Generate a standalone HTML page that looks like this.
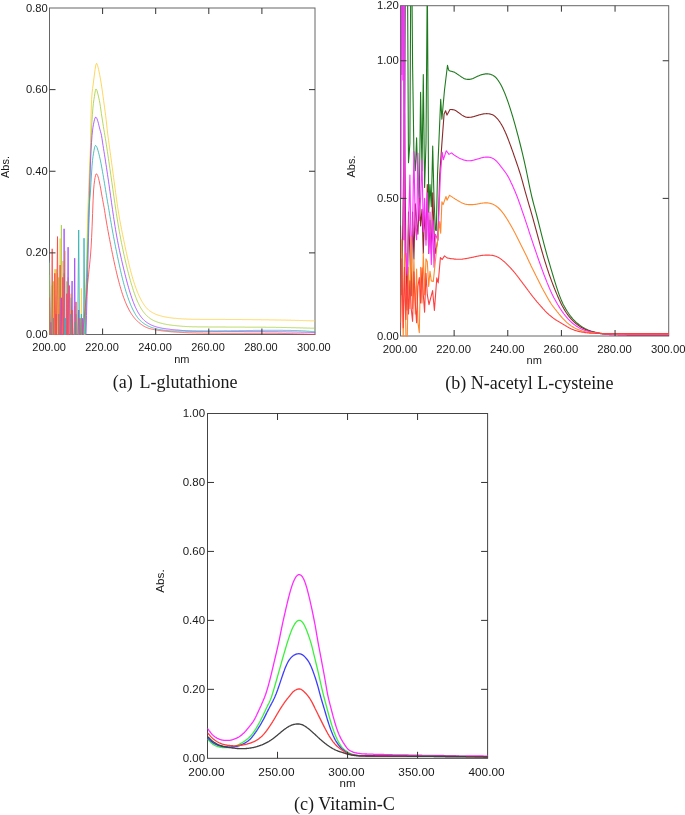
<!DOCTYPE html>
<html lang="en"><head><meta charset="utf-8"><title>UV absorption spectra</title>
<style>html,body{margin:0;padding:0;background:#fff}svg{display:block;will-change:transform}.ss{font-family:"Liberation Sans", Arial, sans-serif}.sf{font-family:"Liberation Serif", "Times New Roman", serif}</style></head><body>
<svg width="685" height="815" viewBox="0 0 685 815">
<rect width="685" height="815" fill="#fff"/>
<rect x="49.5" y="8.0" width="265.50" height="326.50" fill="none" stroke="#666" stroke-width="1"/>
<clipPath id="clip_a"><rect x="49.5" y="8.0" width="266.00" height="327.00"/></clipPath>
<g clip-path="url(#clip_a)" fill="none" stroke-linejoin="round" stroke-linecap="round">
<polyline points="49.5,263.1 50.8,502.7 52.2,285.5 53.5,355.2 54.8,269.2 56.1,492.4 57.5,273.3 58.8,391.4 60.1,238.6 61.4,374.0 62.8,261.0 64.1,390.1 65.4,250.8 66.8,466.4 68.1,277.4 69.4,457.9 70.7,293.7 72.1,394.4 73.4,352.6 74.7,305.9 76.0,404.6 77.4,425.5 78.7,310.0 80.0,451.7 81.4,288.4 82.7,448.6 84.6,334.0 85.1,315.1 85.6,296.3 86.1,277.5 86.6,258.4 87.1,238.7 87.6,220.0 88.1,204.0 88.6,190.3 89.1,177.6 89.6,165.3 90.1,155.2 90.6,142.3 91.1,113.9 91.6,99.6 92.1,92.8 92.6,88.5 93.1,85.0 93.6,81.0 94.1,77.0 94.6,73.1 95.1,69.5 95.6,66.1 96.1,64.1 96.6,63.3 97.1,64.1 97.6,65.5 98.1,67.4 98.6,69.5 99.1,71.8 99.6,74.4 100.1,77.1 100.6,79.9 101.1,82.9 101.6,86.1 102.1,89.4 102.6,92.9 103.1,96.6 103.6,100.4 104.1,104.1 104.6,107.8 105.1,111.5 105.6,115.3 106.1,119.4 106.6,124.0 107.1,128.7 107.6,133.1 108.1,136.9 108.6,140.6 109.1,144.2 109.6,147.9 110.1,151.5 110.6,155.3 111.1,158.9 111.6,162.6 112.1,166.3 112.6,170.0 113.1,173.7 113.6,177.5 114.1,181.2 114.6,185.0 115.1,188.7 115.6,192.5 116.1,196.1 116.6,199.7 117.1,203.2 117.6,206.6 118.1,209.9 118.6,213.0 119.1,216.0 119.6,218.9 120.1,221.7 120.6,224.4 121.1,227.0 121.6,229.6 122.1,232.1 122.6,234.6 123.1,237.0 123.6,239.4 124.1,241.9 124.6,244.3 125.1,246.7 125.6,249.0 126.1,251.4 126.6,253.7 127.1,255.9 127.6,258.2 128.1,260.4 128.6,262.5 129.1,264.6 129.6,266.7 130.1,268.7 130.6,270.7 131.1,272.6 131.6,274.4 132.1,276.2 132.6,278.0 133.1,279.6 133.6,281.3 134.1,282.8 134.6,284.4 135.1,285.8 135.6,287.2 136.1,288.6 136.6,289.9 137.1,291.2 137.6,292.4 138.1,293.6 138.6,294.8 139.1,295.9 139.6,296.9 140.1,298.0 140.6,298.9 141.1,299.9 141.6,300.8 142.1,301.7 142.6,302.5 143.1,303.3 143.6,304.1 144.1,304.9 144.6,305.6 145.1,306.2 145.6,306.9 146.1,307.5 146.6,308.0 147.1,308.6 147.6,309.1 148.1,309.5 148.6,310.0 149.1,310.4 149.6,310.8 150.1,311.1 150.6,311.5 151.1,311.8 151.6,312.1 152.1,312.4 152.6,312.7 153.1,313.0 153.6,313.2 154.1,313.5 154.6,313.7 155.1,313.9 155.6,314.2 156.1,314.4 156.6,314.6 157.1,314.8 157.6,314.9 158.1,315.1 158.6,315.3 159.1,315.4 159.6,315.6 160.1,315.7 160.6,315.9 161.1,316.0 161.6,316.1 162.1,316.3 162.6,316.4 163.1,316.5 163.6,316.6 164.1,316.7 164.6,316.8 165.1,316.9 165.6,317.0 166.1,317.1 166.6,317.2 167.1,317.3 167.6,317.4 168.1,317.4 168.6,317.5 169.1,317.6 169.6,317.7 170.1,317.7 170.6,317.8 171.1,317.9 171.6,317.9 172.1,318.0 172.6,318.1 173.1,318.1 173.6,318.2 174.1,318.2 174.6,318.3 175.1,318.3 175.6,318.3 176.1,318.4 176.6,318.4 177.1,318.5 177.6,318.5 178.1,318.6 178.6,318.6 179.1,318.6 179.6,318.7 180.1,318.7 180.6,318.7 181.1,318.8 181.6,318.8 182.1,318.8 182.6,318.9 183.1,318.9 183.6,318.9 184.1,319.0 184.6,319.0 185.1,319.0 185.6,319.0 186.1,319.1 186.6,319.1 187.1,319.1 187.6,319.1 188.1,319.1 188.6,319.2 189.1,319.2 189.6,319.2 190.1,319.2 190.6,319.2 191.1,319.2 191.6,319.3 192.1,319.3 192.6,319.3 193.1,319.3 193.6,319.3 194.1,319.3 194.6,319.3 195.1,319.3 195.6,319.3 196.1,319.3 196.6,319.3 197.1,319.3 197.6,319.3 198.1,319.3 198.6,319.3 199.1,319.3 199.6,319.3 200.1,319.4 200.6,319.4 201.1,319.4 201.6,319.4 202.1,319.4 202.6,319.4 203.1,319.4 203.6,319.4 204.1,319.4 204.6,319.4 205.1,319.4 205.6,319.4 206.1,319.4 206.6,319.4 207.1,319.4 207.6,319.4 208.1,319.4 208.6,319.4 209.1,319.4 209.6,319.4 210.1,319.4 210.6,319.4 211.1,319.4 211.6,319.4 212.1,319.4 212.6,319.4 213.1,319.4 213.6,319.4 214.1,319.4 214.6,319.4 215.1,319.4 215.6,319.4 216.1,319.4 216.6,319.4 217.1,319.4 217.6,319.4 218.1,319.4 218.6,319.4 219.1,319.4 219.6,319.4 220.1,319.4 220.6,319.4 221.1,319.4 221.6,319.4 222.1,319.4 222.6,319.4 223.1,319.4 223.6,319.4 224.1,319.4 224.6,319.4 225.1,319.5 225.6,319.5 226.1,319.5 226.6,319.5 227.1,319.5 227.6,319.5 228.1,319.5 228.6,319.5 229.1,319.5 229.6,319.5 230.1,319.5 230.6,319.5 231.1,319.5 231.6,319.5 232.1,319.5 232.6,319.5 233.1,319.5 233.6,319.5 234.1,319.5 234.6,319.5 235.1,319.5 235.6,319.5 236.1,319.5 236.6,319.5 237.1,319.5 237.6,319.5 238.1,319.5 238.6,319.5 239.1,319.5 239.6,319.5 240.1,319.5 240.6,319.5 241.1,319.5 241.6,319.5 242.1,319.6 242.6,319.6 243.1,319.6 243.6,319.6 244.1,319.6 244.6,319.6 245.1,319.6 245.6,319.6 246.1,319.6 246.6,319.6 247.1,319.6 247.6,319.6 248.1,319.6 248.6,319.6 249.1,319.6 249.6,319.6 250.1,319.6 250.6,319.6 251.1,319.6 251.6,319.6 252.1,319.6 252.6,319.7 253.1,319.7 253.6,319.7 254.1,319.7 254.6,319.7 255.1,319.7 255.6,319.7 256.1,319.7 256.6,319.7 257.1,319.7 257.6,319.7 258.1,319.7 258.6,319.7 259.1,319.7 259.6,319.7 260.1,319.7 260.6,319.7 261.1,319.8 261.6,319.8 262.1,319.8 262.6,319.8 263.1,319.8 263.6,319.8 264.1,319.8 264.6,319.8 265.1,319.8 265.6,319.8 266.1,319.8 266.6,319.8 267.1,319.8 267.6,319.8 268.1,319.8 268.6,319.8 269.1,319.9 269.6,319.9 270.1,319.9 270.6,319.9 271.1,319.9 271.6,319.9 272.1,319.9 272.6,319.9 273.1,319.9 273.6,319.9 274.1,319.9 274.6,319.9 275.1,319.9 275.6,320.0 276.1,320.0 276.6,320.0 277.1,320.0 277.6,320.0 278.1,320.0 278.6,320.0 279.1,320.0 279.6,320.0 280.1,320.0 280.6,320.0 281.1,320.1 281.6,320.1 282.1,320.1 282.6,320.1 283.1,320.1 283.6,320.1 284.1,320.1 284.6,320.1 285.1,320.1 285.6,320.1 286.1,320.1 286.6,320.2 287.1,320.2 287.6,320.2 288.1,320.2 288.6,320.2 289.1,320.2 289.6,320.2 290.1,320.2 290.6,320.2 291.1,320.3 291.6,320.3 292.1,320.3 292.6,320.3 293.1,320.3 293.6,320.3 294.1,320.3 294.6,320.3 295.1,320.4 295.6,320.4 296.1,320.4 296.6,320.4 297.1,320.4 297.6,320.4 298.1,320.4 298.6,320.4 299.1,320.5 299.6,320.5 300.1,320.5 300.6,320.5 301.1,320.5 301.6,320.5 302.1,320.5 302.6,320.5 303.1,320.6 303.6,320.6 304.1,320.6 304.6,320.6 305.1,320.6 305.6,320.6 306.1,320.6 306.6,320.7 307.1,320.7 307.6,320.7 308.1,320.7 308.6,320.7 309.1,320.7 309.6,320.7 310.1,320.8 310.6,320.8 311.1,320.8 311.6,320.8 312.1,320.8 312.6,320.8 313.1,320.8 313.6,320.8 314.1,320.9 314.6,320.9 315.0,320.9" stroke="#FFCF40" stroke-width="0.85"/>
<polyline points="49.5,275.3 50.8,448.1 52.2,425.3 53.5,281.4 54.8,370.4 56.1,269.2 57.5,487.9 58.8,277.4 60.1,479.6 61.4,225.1 62.8,513.2 64.1,273.3 65.4,498.2 66.8,281.4 68.1,516.6 69.4,491.3 70.7,297.8 72.1,430.1 73.4,348.5 74.7,399.3 76.0,314.1 77.4,453.3 78.7,448.7 80.0,399.7 81.4,322.3 82.7,462.3 85.4,334.0 85.9,314.0 86.4,294.0 86.9,274.0 87.4,253.4 87.9,232.3 88.4,213.3 88.9,198.2 89.4,185.3 89.9,172.6 90.4,158.9 90.9,144.9 91.4,132.8 91.9,122.6 92.4,114.5 92.9,108.1 93.4,103.3 93.9,99.6 94.4,96.6 94.9,93.2 95.4,90.4 95.9,89.0 96.4,89.3 96.9,90.4 97.4,92.1 97.9,94.1 98.4,96.1 98.9,98.3 99.4,100.6 99.9,103.3 100.4,106.5 100.9,110.0 101.4,113.6 101.9,116.9 102.4,120.1 102.9,123.3 103.4,126.5 103.9,129.6 104.4,132.6 104.9,135.6 105.4,138.6 105.9,141.6 106.4,144.8 106.9,148.1 107.4,151.5 107.9,154.9 108.4,158.3 108.9,161.7 109.4,165.1 109.9,168.6 110.4,172.0 110.9,175.5 111.4,179.0 111.9,182.5 112.4,186.0 112.9,189.5 113.4,193.1 113.9,196.6 114.4,200.1 114.9,203.5 115.4,206.9 115.9,210.3 116.4,213.6 116.9,216.8 117.4,219.9 117.9,223.0 118.4,226.0 118.9,228.9 119.4,231.7 119.9,234.5 120.4,237.1 120.9,239.8 121.4,242.3 121.9,244.8 122.4,247.2 122.9,249.6 123.4,252.0 123.9,254.3 124.4,256.6 124.9,258.8 125.4,261.0 125.9,263.1 126.4,265.2 126.9,267.3 127.4,269.3 127.9,271.3 128.4,273.3 128.9,275.2 129.4,277.0 129.9,278.8 130.4,280.6 130.9,282.4 131.4,284.1 131.9,285.7 132.4,287.3 132.9,288.9 133.4,290.5 133.9,292.0 134.4,293.4 134.9,294.8 135.4,296.2 135.9,297.5 136.4,298.8 136.9,300.0 137.4,301.2 137.9,302.3 138.4,303.4 138.9,304.4 139.4,305.4 139.9,306.4 140.4,307.3 140.9,308.1 141.4,308.9 141.9,309.7 142.4,310.5 142.9,311.2 143.4,311.9 143.9,312.5 144.4,313.1 144.9,313.7 145.4,314.3 145.9,314.8 146.4,315.3 146.9,315.8 147.4,316.3 147.9,316.7 148.4,317.2 148.9,317.6 149.4,317.9 149.9,318.3 150.4,318.7 150.9,319.0 151.4,319.3 151.9,319.6 152.4,319.9 152.9,320.1 153.4,320.4 153.9,320.6 154.4,320.9 154.9,321.1 155.4,321.3 155.9,321.5 156.4,321.7 156.9,321.9 157.4,322.1 157.9,322.2 158.4,322.4 158.9,322.6 159.4,322.7 159.9,322.9 160.4,323.0 160.9,323.2 161.4,323.3 161.9,323.4 162.4,323.5 162.9,323.7 163.4,323.8 163.9,323.9 164.4,324.0 164.9,324.1 165.4,324.2 165.9,324.3 166.4,324.4 166.9,324.5 167.4,324.6 167.9,324.6 168.4,324.7 168.9,324.8 169.4,324.9 169.9,325.0 170.4,325.0 170.9,325.1 171.4,325.2 171.9,325.2 172.4,325.3 172.9,325.4 173.4,325.4 173.9,325.5 174.4,325.5 174.9,325.6 175.4,325.6 175.9,325.7 176.4,325.7 176.9,325.8 177.4,325.8 177.9,325.9 178.4,325.9 178.9,326.0 179.4,326.0 179.9,326.1 180.4,326.1 180.9,326.1 181.4,326.2 181.9,326.2 182.4,326.3 182.9,326.3 183.4,326.3 183.9,326.4 184.4,326.4 184.9,326.4 185.4,326.5 185.9,326.5 186.4,326.5 186.9,326.5 187.4,326.6 187.9,326.6 188.4,326.6 188.9,326.6 189.4,326.7 189.9,326.7 190.4,326.7 190.9,326.7 191.4,326.7 191.9,326.8 192.4,326.8 192.9,326.8 193.4,326.8 193.9,326.8 194.4,326.8 194.9,326.8 195.4,326.8 195.9,326.8 196.4,326.8 196.9,326.8 197.4,326.9 197.9,326.9 198.4,326.9 198.9,326.9 199.4,326.9 199.9,326.9 200.4,326.9 200.9,326.9 201.4,326.9 201.9,326.9 202.4,326.9 202.9,326.9 203.4,326.9 203.9,326.9 204.4,326.9 204.9,326.9 205.4,326.9 205.9,326.9 206.4,326.9 206.9,326.9 207.4,326.9 207.9,327.0 208.4,327.0 208.9,327.0 209.4,327.0 209.9,327.0 210.4,327.0 210.9,327.0 211.4,327.0 211.9,327.0 212.4,327.0 212.9,327.0 213.4,327.0 213.9,327.0 214.4,327.0 214.9,327.0 215.4,327.0 215.9,327.0 216.4,327.0 216.9,327.0 217.4,327.0 217.9,327.0 218.4,327.0 218.9,327.0 219.4,327.0 219.9,327.0 220.4,327.0 220.9,327.0 221.4,327.0 221.9,327.0 222.4,327.0 222.9,327.0 223.4,327.0 223.9,327.0 224.4,327.0 224.9,327.0 225.4,327.0 225.9,327.1 226.4,327.1 226.9,327.1 227.4,327.1 227.9,327.1 228.4,327.1 228.9,327.1 229.4,327.1 229.9,327.1 230.4,327.1 230.9,327.1 231.4,327.1 231.9,327.1 232.4,327.1 232.9,327.1 233.4,327.1 233.9,327.1 234.4,327.1 234.9,327.1 235.4,327.1 235.9,327.1 236.4,327.1 236.9,327.1 237.4,327.1 237.9,327.1 238.4,327.1 238.9,327.1 239.4,327.1 239.9,327.1 240.4,327.1 240.9,327.1 241.4,327.1 241.9,327.1 242.4,327.1 242.9,327.1 243.4,327.1 243.9,327.1 244.4,327.1 244.9,327.2 245.4,327.2 245.9,327.2 246.4,327.2 246.9,327.2 247.4,327.2 247.9,327.2 248.4,327.2 248.9,327.2 249.4,327.2 249.9,327.2 250.4,327.2 250.9,327.2 251.4,327.2 251.9,327.2 252.4,327.2 252.9,327.2 253.4,327.2 253.9,327.2 254.4,327.2 254.9,327.2 255.4,327.2 255.9,327.2 256.4,327.2 256.9,327.2 257.4,327.2 257.9,327.2 258.4,327.2 258.9,327.2 259.4,327.2 259.9,327.2 260.4,327.2 260.9,327.2 261.4,327.2 261.9,327.2 262.4,327.2 262.9,327.2 263.4,327.2 263.9,327.2 264.4,327.2 264.9,327.2 265.4,327.2 265.9,327.3 266.4,327.3 266.9,327.3 267.4,327.3 267.9,327.3 268.4,327.3 268.9,327.3 269.4,327.3 269.9,327.3 270.4,327.3 270.9,327.3 271.4,327.3 271.9,327.3 272.4,327.3 272.9,327.3 273.4,327.3 273.9,327.3 274.4,327.3 274.9,327.3 275.4,327.3 275.9,327.3 276.4,327.4 276.9,327.4 277.4,327.4 277.9,327.4 278.4,327.4 278.9,327.4 279.4,327.4 279.9,327.4 280.4,327.4 280.9,327.4 281.4,327.4 281.9,327.5 282.4,327.5 282.9,327.5 283.4,327.5 283.9,327.5 284.4,327.5 284.9,327.5 285.4,327.5 285.9,327.5 286.4,327.5 286.9,327.6 287.4,327.6 287.9,327.6 288.4,327.6 288.9,327.6 289.4,327.6 289.9,327.6 290.4,327.6 290.9,327.6 291.4,327.7 291.9,327.7 292.4,327.7 292.9,327.7 293.4,327.7 293.9,327.7 294.4,327.7 294.9,327.7 295.4,327.7 295.9,327.8 296.4,327.8 296.9,327.8 297.4,327.8 297.9,327.8 298.4,327.8 298.9,327.8 299.4,327.8 299.9,327.9 300.4,327.9 300.9,327.9 301.4,327.9 301.9,327.9 302.4,327.9 302.9,327.9 303.4,328.0 303.9,328.0 304.4,328.0 304.9,328.0 305.4,328.0 305.9,328.0 306.4,328.0 306.9,328.1 307.4,328.1 307.9,328.1 308.4,328.1 308.9,328.1 309.4,328.1 309.9,328.1 310.4,328.2 310.9,328.2 311.4,328.2 311.9,328.2 312.4,328.2 312.9,328.2 313.4,328.2 313.9,328.2 314.4,328.3 314.9,328.3 315.0,328.3" stroke="#A6D13C" stroke-width="0.85"/>
<polyline points="49.5,420.4 50.8,322.3 52.2,409.8 53.5,378.1 54.8,470.6 56.1,314.1 57.5,406.4 58.8,365.5 60.1,362.4 61.4,297.8 62.8,486.2 64.1,228.8 65.4,406.4 66.8,412.4 68.1,247.2 69.4,431.9 70.7,352.5 72.1,281.0 73.4,427.6 74.7,258.2 76.0,441.8 77.4,356.4 78.7,310.0 80.0,409.2 81.4,466.5 82.7,318.2 84.0,465.1 86.0,334.0 86.5,315.6 87.0,296.8 87.5,277.7 88.0,258.1 88.5,237.8 89.0,217.7 89.5,198.1 90.0,178.2 90.5,161.9 91.0,151.2 91.5,142.5 92.0,135.7 92.5,130.9 93.0,127.2 93.5,124.3 94.0,121.8 94.5,119.5 95.0,118.1 95.5,117.2 96.0,117.2 96.5,117.9 97.0,118.8 97.5,120.2 98.0,121.8 98.5,123.7 99.0,125.8 99.5,127.9 100.0,129.8 100.5,131.5 101.0,133.3 101.5,135.5 102.0,138.7 102.5,142.1 103.0,145.3 103.5,148.5 104.0,151.6 104.5,154.7 105.0,157.9 105.5,161.2 106.0,164.4 106.5,167.7 107.0,171.1 107.5,174.4 108.0,177.8 108.5,181.2 109.0,184.6 109.5,188.2 110.0,191.7 110.5,195.3 111.0,198.8 111.5,202.4 112.0,206.0 112.5,209.5 113.0,213.0 113.5,216.4 114.0,219.8 114.5,223.0 115.0,226.2 115.5,229.3 116.0,232.2 116.5,235.1 117.0,237.9 117.5,240.5 118.0,243.1 118.5,245.6 119.0,248.1 119.5,250.4 120.0,252.8 120.5,255.1 121.0,257.3 121.5,259.6 122.0,261.7 122.5,263.9 123.0,266.0 123.5,268.1 124.0,270.2 124.5,272.2 125.0,274.3 125.5,276.2 126.0,278.2 126.5,280.1 127.0,282.0 127.5,283.8 128.0,285.7 128.5,287.4 129.0,289.2 129.5,290.8 130.0,292.5 130.5,294.1 131.0,295.6 131.5,297.1 132.0,298.6 132.5,300.0 133.0,301.3 133.5,302.6 134.0,303.9 134.5,305.1 135.0,306.3 135.5,307.4 136.0,308.4 136.5,309.5 137.0,310.4 137.5,311.4 138.0,312.3 138.5,313.1 139.0,313.9 139.5,314.7 140.0,315.4 140.5,316.1 141.0,316.8 141.5,317.4 142.0,318.0 142.5,318.6 143.0,319.2 143.5,319.7 144.0,320.2 144.5,320.6 145.0,321.1 145.5,321.5 146.0,321.9 146.5,322.2 147.0,322.6 147.5,322.9 148.0,323.2 148.5,323.5 149.0,323.8 149.5,324.1 150.0,324.4 150.5,324.6 151.0,324.9 151.5,325.1 152.0,325.3 152.5,325.5 153.0,325.7 153.5,325.9 154.0,326.1 154.5,326.3 155.0,326.4 155.5,326.6 156.0,326.8 156.5,326.9 157.0,327.1 157.5,327.2 158.0,327.3 158.5,327.4 159.0,327.6 159.5,327.7 160.0,327.8 160.5,327.9 161.0,328.0 161.5,328.1 162.0,328.2 162.5,328.3 163.0,328.4 163.5,328.4 164.0,328.5 164.5,328.6 165.0,328.7 165.5,328.7 166.0,328.8 166.5,328.9 167.0,328.9 167.5,329.0 168.0,329.1 168.5,329.1 169.0,329.2 169.5,329.2 170.0,329.3 170.5,329.4 171.0,329.4 171.5,329.5 172.0,329.5 172.5,329.6 173.0,329.6 173.5,329.7 174.0,329.7 174.5,329.8 175.0,329.8 175.5,329.9 176.0,329.9 176.5,330.0 177.0,330.0 177.5,330.0 178.0,330.1 178.5,330.1 179.0,330.2 179.5,330.2 180.0,330.3 180.5,330.3 181.0,330.4 181.5,330.4 182.0,330.4 182.5,330.5 183.0,330.5 183.5,330.6 184.0,330.6 184.5,330.6 185.0,330.7 185.5,330.7 186.0,330.7 186.5,330.8 187.0,330.8 187.5,330.8 188.0,330.9 188.5,330.9 189.0,330.9 189.5,330.9 190.0,331.0 190.5,331.0 191.0,331.0 191.5,331.0 192.0,331.0 192.5,331.1 193.0,331.1 193.5,331.1 194.0,331.1 194.5,331.1 195.0,331.1 195.5,331.1 196.0,331.1 196.5,331.2 197.0,331.2 197.5,331.2 198.0,331.2 198.5,331.2 199.0,331.2 199.5,331.2 200.0,331.2 200.5,331.2 201.0,331.2 201.5,331.2 202.0,331.2 202.5,331.2 203.0,331.2 203.5,331.3 204.0,331.3 204.5,331.3 205.0,331.3 205.5,331.3 206.0,331.3 206.5,331.3 207.0,331.3 207.5,331.3 208.0,331.3 208.5,331.3 209.0,331.3 209.5,331.3 210.0,331.3 210.5,331.3 211.0,331.3 211.5,331.3 212.0,331.3 212.5,331.3 213.0,331.4 213.5,331.4 214.0,331.4 214.5,331.4 215.0,331.4 215.5,331.4 216.0,331.4 216.5,331.4 217.0,331.4 217.5,331.4 218.0,331.4 218.5,331.4 219.0,331.4 219.5,331.4 220.0,331.4 220.5,331.4 221.0,331.4 221.5,331.4 222.0,331.4 222.5,331.4 223.0,331.4 223.5,331.4 224.0,331.4 224.5,331.4 225.0,331.4 225.5,331.4 226.0,331.4 226.5,331.4 227.0,331.4 227.5,331.5 228.0,331.5 228.5,331.5 229.0,331.5 229.5,331.5 230.0,331.5 230.5,331.5 231.0,331.5 231.5,331.5 232.0,331.5 232.5,331.5 233.0,331.5 233.5,331.5 234.0,331.5 234.5,331.5 235.0,331.5 235.5,331.5 236.0,331.5 236.5,331.5 237.0,331.5 237.5,331.5 238.0,331.5 238.5,331.5 239.0,331.5 239.5,331.5 240.0,331.5 240.5,331.5 241.0,331.5 241.5,331.5 242.0,331.5 242.5,331.5 243.0,331.5 243.5,331.5 244.0,331.6 244.5,331.6 245.0,331.6 245.5,331.6 246.0,331.6 246.5,331.6 247.0,331.6 247.5,331.6 248.0,331.6 248.5,331.6 249.0,331.6 249.5,331.6 250.0,331.6 250.5,331.6 251.0,331.6 251.5,331.6 252.0,331.6 252.5,331.6 253.0,331.6 253.5,331.6 254.0,331.6 254.5,331.6 255.0,331.6 255.5,331.6 256.0,331.6 256.5,331.6 257.0,331.6 257.5,331.6 258.0,331.6 258.5,331.6 259.0,331.6 259.5,331.6 260.0,331.6 260.5,331.6 261.0,331.6 261.5,331.6 262.0,331.6 262.5,331.6 263.0,331.6 263.5,331.6 264.0,331.6 264.5,331.6 265.0,331.7 265.5,331.7 266.0,331.7 266.5,331.7 267.0,331.7 267.5,331.7 268.0,331.7 268.5,331.7 269.0,331.7 269.5,331.7 270.0,331.7 270.5,331.7 271.0,331.7 271.5,331.7 272.0,331.7 272.5,331.7 273.0,331.7 273.5,331.7 274.0,331.7 274.5,331.7 275.0,331.7 275.5,331.7 276.0,331.7 276.5,331.7 277.0,331.7 277.5,331.7 278.0,331.8 278.5,331.8 279.0,331.8 279.5,331.8 280.0,331.8 280.5,331.8 281.0,331.8 281.5,331.8 282.0,331.8 282.5,331.8 283.0,331.8 283.5,331.8 284.0,331.8 284.5,331.8 285.0,331.8 285.5,331.8 286.0,331.9 286.5,331.9 287.0,331.9 287.5,331.9 288.0,331.9 288.5,331.9 289.0,331.9 289.5,331.9 290.0,331.9 290.5,331.9 291.0,331.9 291.5,331.9 292.0,331.9 292.5,332.0 293.0,332.0 293.5,332.0 294.0,332.0 294.5,332.0 295.0,332.0 295.5,332.0 296.0,332.0 296.5,332.0 297.0,332.0 297.5,332.1 298.0,332.1 298.5,332.1 299.0,332.1 299.5,332.1 300.0,332.1 300.5,332.1 301.0,332.1 301.5,332.2 302.0,332.2 302.5,332.2 303.0,332.2 303.5,332.2 304.0,332.2 304.5,332.2 305.0,332.3 305.5,332.3 306.0,332.3 306.5,332.3 307.0,332.3 307.5,332.3 308.0,332.4 308.5,332.4 309.0,332.4 309.5,332.4 310.0,332.4 310.5,332.4 311.0,332.5 311.5,332.5 312.0,332.5 312.5,332.5 313.0,332.5 313.5,332.5 314.0,332.5 314.5,332.6 315.0,332.6" stroke="#A346FF" stroke-width="0.85"/>
<polyline points="49.5,261.0 50.8,353.9 52.2,494.1 53.5,318.2 54.8,514.1 56.1,347.0 57.5,486.6 58.8,314.1 60.1,497.5 61.4,406.5 62.8,458.9 64.1,365.7 65.4,318.2 66.8,478.4 68.1,353.7 69.4,463.4 70.7,314.1 72.1,415.1 73.4,358.4 74.7,322.3 76.0,400.7 77.4,359.8 78.7,230.0 80.0,396.8 81.4,314.1 82.7,509.9 84.0,238.2 85.0,334.0 85.5,311.7 86.0,295.0 86.5,281.1 87.0,268.1 87.5,254.2 88.0,238.7 88.5,223.4 89.0,210.5 89.5,202.3 90.0,197.3 90.5,191.0 91.0,182.3 91.5,174.0 92.0,166.1 92.5,160.5 93.0,156.6 93.5,153.3 94.0,150.4 94.5,147.8 95.0,146.3 95.5,145.5 96.0,145.7 96.5,146.4 97.0,147.5 97.5,149.0 98.0,150.6 98.5,152.4 99.0,154.3 99.5,156.4 100.0,158.6 100.5,160.9 101.0,163.4 101.5,166.1 102.0,168.8 102.5,171.6 103.0,174.5 103.5,177.4 104.0,180.3 104.5,183.4 105.0,186.4 105.5,189.5 106.0,192.6 106.5,195.7 107.0,198.7 107.5,201.6 108.0,204.5 108.5,207.4 109.0,210.4 109.5,213.5 110.0,216.5 110.5,219.5 111.0,222.4 111.5,225.3 112.0,228.1 112.5,231.0 113.0,233.7 113.5,236.4 114.0,239.0 114.5,241.6 115.0,244.2 115.5,246.7 116.0,249.2 116.5,251.6 117.0,254.1 117.5,256.5 118.0,258.9 118.5,261.2 119.0,263.6 119.5,265.9 120.0,268.1 120.5,270.4 121.0,272.6 121.5,274.7 122.0,276.8 122.5,278.8 123.0,280.8 123.5,282.7 124.0,284.6 124.5,286.4 125.0,288.2 125.5,289.9 126.0,291.6 126.5,293.2 127.0,294.7 127.5,296.3 128.0,297.7 128.5,299.1 129.0,300.5 129.5,301.8 130.0,303.1 130.5,304.4 131.0,305.6 131.5,306.7 132.0,307.8 132.5,308.9 133.0,309.9 133.5,310.9 134.0,311.8 134.5,312.8 135.0,313.6 135.5,314.5 136.0,315.3 136.5,316.0 137.0,316.7 137.5,317.4 138.0,318.0 138.5,318.7 139.0,319.2 139.5,319.8 140.0,320.3 140.5,320.8 141.0,321.2 141.5,321.7 142.0,322.1 142.5,322.5 143.0,322.9 143.5,323.2 144.0,323.6 144.5,323.9 145.0,324.2 145.5,324.5 146.0,324.8 146.5,325.1 147.0,325.4 147.5,325.7 148.0,325.9 148.5,326.2 149.0,326.4 149.5,326.6 150.0,326.8 150.5,327.0 151.0,327.2 151.5,327.4 152.0,327.6 152.5,327.7 153.0,327.9 153.5,328.0 154.0,328.2 154.5,328.3 155.0,328.5 155.5,328.6 156.0,328.7 156.5,328.8 157.0,328.9 157.5,329.1 158.0,329.2 158.5,329.3 159.0,329.4 159.5,329.5 160.0,329.5 160.5,329.6 161.0,329.7 161.5,329.8 162.0,329.9 162.5,329.9 163.0,330.0 163.5,330.1 164.0,330.1 164.5,330.2 165.0,330.3 165.5,330.3 166.0,330.4 166.5,330.4 167.0,330.5 167.5,330.5 168.0,330.6 168.5,330.6 169.0,330.6 169.5,330.7 170.0,330.7 170.5,330.8 171.0,330.8 171.5,330.8 172.0,330.9 172.5,330.9 173.0,330.9 173.5,330.9 174.0,330.9 174.5,331.0 175.0,331.0 175.5,331.0 176.0,331.0 176.5,331.0 177.0,331.0 177.5,331.0 178.0,331.1 178.5,331.1 179.0,331.1 179.5,331.1 180.0,331.1 180.5,331.1 181.0,331.1 181.5,331.1 182.0,331.1 182.5,331.1 183.0,331.1 183.5,331.1 184.0,331.1 184.5,331.1 185.0,331.2 185.5,331.2 186.0,331.2 186.5,331.2 187.0,331.2 187.5,331.2 188.0,331.2 188.5,331.2 189.0,331.2 189.5,331.2 190.0,331.2 190.5,331.2 191.0,331.2 191.5,331.2 192.0,331.2 192.5,331.2 193.0,331.2 193.5,331.2 194.0,331.2 194.5,331.2 195.0,331.2 195.5,331.2 196.0,331.2 196.5,331.2 197.0,331.2 197.5,331.2 198.0,331.2 198.5,331.2 199.0,331.2 199.5,331.2 200.0,331.2 200.5,331.2 201.0,331.2 201.5,331.2 202.0,331.2 202.5,331.2 203.0,331.1 203.5,331.1 204.0,331.1 204.5,331.1 205.0,331.1 205.5,331.1 206.0,331.1 206.5,331.1 207.0,331.1 207.5,331.1 208.0,331.1 208.5,331.1 209.0,331.1 209.5,331.1 210.0,331.1 210.5,331.1 211.0,331.1 211.5,331.0 212.0,331.0 212.5,331.0 213.0,331.0 213.5,331.0 214.0,331.0 214.5,331.0 215.0,331.0 215.5,331.0 216.0,331.0 216.5,331.0 217.0,331.0 217.5,331.0 218.0,330.9 218.5,330.9 219.0,330.9 219.5,330.9 220.0,330.9 220.5,330.9 221.0,330.9 221.5,330.9 222.0,330.9 222.5,330.9 223.0,330.9 223.5,330.9 224.0,330.9 224.5,330.8 225.0,330.8 225.5,330.8 226.0,330.8 226.5,330.8 227.0,330.8 227.5,330.8 228.0,330.8 228.5,330.8 229.0,330.8 229.5,330.8 230.0,330.8 230.5,330.8 231.0,330.8 231.5,330.7 232.0,330.7 232.5,330.7 233.0,330.7 233.5,330.7 234.0,330.7 234.5,330.7 235.0,330.7 235.5,330.7 236.0,330.7 236.5,330.7 237.0,330.7 237.5,330.7 238.0,330.7 238.5,330.7 239.0,330.6 239.5,330.6 240.0,330.6 240.5,330.6 241.0,330.6 241.5,330.6 242.0,330.6 242.5,330.6 243.0,330.6 243.5,330.6 244.0,330.6 244.5,330.6 245.0,330.6 245.5,330.6 246.0,330.6 246.5,330.5 247.0,330.5 247.5,330.5 248.0,330.5 248.5,330.5 249.0,330.5 249.5,330.5 250.0,330.5 250.5,330.5 251.0,330.5 251.5,330.5 252.0,330.5 252.5,330.5 253.0,330.5 253.5,330.4 254.0,330.4 254.5,330.4 255.0,330.4 255.5,330.4 256.0,330.4 256.5,330.4 257.0,330.4 257.5,330.4 258.0,330.4 258.5,330.4 259.0,330.4 259.5,330.4 260.0,330.4 260.5,330.4 261.0,330.4 261.5,330.4 262.0,330.4 262.5,330.3 263.0,330.3 263.5,330.3 264.0,330.3 264.5,330.3 265.0,330.3 265.5,330.3 266.0,330.3 266.5,330.3 267.0,330.3 267.5,330.3 268.0,330.3 268.5,330.3 269.0,330.3 269.5,330.3 270.0,330.3 270.5,330.3 271.0,330.3 271.5,330.3 272.0,330.3 272.5,330.3 273.0,330.3 273.5,330.3 274.0,330.3 274.5,330.3 275.0,330.3 275.5,330.3 276.0,330.3 276.5,330.3 277.0,330.3 277.5,330.3 278.0,330.3 278.5,330.3 279.0,330.3 279.5,330.3 280.0,330.3 280.5,330.3 281.0,330.3 281.5,330.3 282.0,330.3 282.5,330.3 283.0,330.4 283.5,330.4 284.0,330.4 284.5,330.4 285.0,330.4 285.5,330.4 286.0,330.4 286.5,330.4 287.0,330.4 287.5,330.4 288.0,330.4 288.5,330.4 289.0,330.4 289.5,330.4 290.0,330.4 290.5,330.4 291.0,330.4 291.5,330.5 292.0,330.5 292.5,330.5 293.0,330.5 293.5,330.5 294.0,330.5 294.5,330.5 295.0,330.5 295.5,330.5 296.0,330.5 296.5,330.5 297.0,330.6 297.5,330.6 298.0,330.6 298.5,330.6 299.0,330.6 299.5,330.7 300.0,330.7 300.5,330.7 301.0,330.7 301.5,330.8 302.0,330.8 302.5,330.8 303.0,330.8 303.5,330.9 304.0,330.9 304.5,330.9 305.0,331.0 305.5,331.0 306.0,331.0 306.5,331.1 307.0,331.1 307.5,331.2 308.0,331.2 308.5,331.2 309.0,331.3 309.5,331.3 310.0,331.4 310.5,331.4 311.0,331.4 311.5,331.5 312.0,331.5 312.5,331.6 313.0,331.6 313.5,331.6 314.0,331.7 314.5,331.7 315.0,331.7" stroke="#2FB4B4" stroke-width="0.85"/>
<polyline points="49.5,297.8 50.8,440.6 52.2,248.8 53.5,422.2 54.8,273.3 56.1,359.7 57.5,236.6 58.8,438.3 60.1,265.1 61.4,431.1 62.8,277.4 64.1,417.5 65.4,486.5 66.8,293.7 68.1,430.4 69.4,285.5 70.7,410.2 72.1,310.0 73.4,382.2 74.7,502.0 76.0,301.9 77.4,466.1 78.7,502.6 80.0,318.2 81.4,379.4 82.6,334.5 83.1,329.4 83.6,324.3 84.1,319.2 84.6,314.1 85.1,309.0 85.6,304.0 86.1,299.0 86.6,294.0 87.1,289.1 87.6,284.1 88.1,279.0 88.6,274.1 89.1,269.5 89.6,264.9 90.1,259.8 90.6,254.0 91.1,247.0 91.6,237.7 92.1,226.7 92.6,213.5 93.1,200.1 93.6,190.0 94.1,184.4 94.6,180.4 95.1,177.4 95.6,175.3 96.1,174.0 96.6,173.8 97.1,174.5 97.6,175.4 98.1,176.9 98.6,178.6 99.1,180.7 99.6,183.0 100.1,185.5 100.6,188.1 101.1,191.0 101.6,193.9 102.1,196.8 102.6,199.5 103.1,202.2 103.6,204.8 104.1,207.6 104.6,210.6 105.1,213.7 105.6,216.9 106.1,219.9 106.6,222.9 107.1,225.8 107.6,228.6 108.1,231.3 108.6,234.0 109.1,236.7 109.6,239.3 110.1,241.9 110.6,244.5 111.1,247.1 111.6,249.6 112.1,252.1 112.6,254.5 113.1,257.0 113.6,259.3 114.1,261.7 114.6,264.0 115.1,266.2 115.6,268.5 116.1,270.6 116.6,272.8 117.1,274.9 117.6,276.9 118.1,278.9 118.6,280.8 119.1,282.7 119.6,284.6 120.1,286.3 120.6,288.1 121.1,289.8 121.6,291.4 122.1,293.0 122.6,294.5 123.1,296.0 123.6,297.4 124.1,298.7 124.6,300.1 125.1,301.3 125.6,302.6 126.1,303.7 126.6,304.9 127.1,306.0 127.6,307.0 128.1,308.0 128.6,309.0 129.1,310.0 129.6,310.9 130.1,311.8 130.6,312.6 131.1,313.4 131.6,314.2 132.1,314.9 132.6,315.6 133.1,316.3 133.6,317.0 134.1,317.6 134.6,318.2 135.1,318.8 135.6,319.4 136.1,319.9 136.6,320.4 137.1,320.9 137.6,321.4 138.1,321.8 138.6,322.3 139.1,322.7 139.6,323.1 140.1,323.5 140.6,323.9 141.1,324.3 141.6,324.6 142.1,325.0 142.6,325.3 143.1,325.6 143.6,326.0 144.1,326.3 144.6,326.5 145.1,326.8 145.6,327.1 146.1,327.3 146.6,327.5 147.1,327.7 147.6,327.9 148.1,328.1 148.6,328.3 149.1,328.4 149.6,328.6 150.1,328.7 150.6,328.8 151.1,329.0 151.6,329.1 152.1,329.2 152.6,329.3 153.1,329.4 153.6,329.5 154.1,329.6 154.6,329.7 155.1,329.8 155.6,329.9 156.1,330.0 156.6,330.0 157.1,330.1 157.6,330.2 158.1,330.3 158.6,330.4 159.1,330.4 159.6,330.5 160.1,330.6 160.6,330.6 161.1,330.7 161.6,330.8 162.1,330.8 162.6,330.9 163.1,331.0 163.6,331.0 164.1,331.1 164.6,331.1 165.1,331.2 165.6,331.2 166.1,331.3 166.6,331.3 167.1,331.4 167.6,331.4 168.1,331.5 168.6,331.5 169.1,331.6 169.6,331.6 170.1,331.6 170.6,331.7 171.1,331.7 171.6,331.8 172.1,331.8 172.6,331.8 173.1,331.9 173.6,331.9 174.1,331.9 174.6,332.0 175.1,332.0 175.6,332.0 176.1,332.1 176.6,332.1 177.1,332.1 177.6,332.2 178.1,332.2 178.6,332.2 179.1,332.3 179.6,332.3 180.1,332.3 180.6,332.4 181.1,332.4 181.6,332.4 182.1,332.4 182.6,332.5 183.1,332.5 183.6,332.5 184.1,332.5 184.6,332.6 185.1,332.6 185.6,332.6 186.1,332.6 186.6,332.7 187.1,332.7 187.6,332.7 188.1,332.7 188.6,332.8 189.1,332.8 189.6,332.8 190.1,332.8 190.6,332.8 191.1,332.8 191.6,332.8 192.1,332.9 192.6,332.9 193.1,332.9 193.6,332.9 194.1,332.9 194.6,332.9 195.1,332.9 195.6,332.9 196.1,332.9 196.6,333.0 197.1,333.0 197.6,333.0 198.1,333.0 198.6,333.0 199.1,333.0 199.6,333.0 200.1,333.0 200.6,333.0 201.1,333.0 201.6,333.0 202.1,333.0 202.6,333.0 203.1,333.1 203.6,333.1 204.1,333.1 204.6,333.1 205.1,333.1 205.6,333.1 206.1,333.1 206.6,333.1 207.1,333.1 207.6,333.1 208.1,333.1 208.6,333.1 209.1,333.1 209.6,333.1 210.1,333.1 210.6,333.2 211.1,333.2 211.6,333.2 212.1,333.2 212.6,333.2 213.1,333.2 213.6,333.2 214.1,333.2 214.6,333.2 215.1,333.2 215.6,333.2 216.1,333.2 216.6,333.2 217.1,333.2 217.6,333.2 218.1,333.2 218.6,333.2 219.1,333.2 219.6,333.2 220.1,333.2 220.6,333.2 221.1,333.2 221.6,333.3 222.1,333.3 222.6,333.3 223.1,333.3 223.6,333.3 224.1,333.3 224.6,333.3 225.1,333.3 225.6,333.3 226.1,333.3 226.6,333.3 227.1,333.3 227.6,333.3 228.1,333.3 228.6,333.3 229.1,333.3 229.6,333.3 230.1,333.3 230.6,333.3 231.1,333.3 231.6,333.3 232.1,333.3 232.6,333.3 233.1,333.3 233.6,333.3 234.1,333.3 234.6,333.3 235.1,333.3 235.6,333.3 236.1,333.3 236.6,333.3 237.1,333.3 237.6,333.3 238.1,333.3 238.6,333.3 239.1,333.3 239.6,333.3 240.1,333.3 240.6,333.3 241.1,333.3 241.6,333.3 242.1,333.3 242.6,333.3 243.1,333.3 243.6,333.3 244.1,333.3 244.6,333.3 245.1,333.3 245.6,333.3 246.1,333.3 246.6,333.3 247.1,333.3 247.6,333.3 248.1,333.3 248.6,333.3 249.1,333.3 249.6,333.3 250.1,333.3 250.6,333.3 251.1,333.3 251.6,333.3 252.1,333.3 252.6,333.3 253.1,333.3 253.6,333.3 254.1,333.3 254.6,333.3 255.1,333.3 255.6,333.3 256.1,333.3 256.6,333.3 257.1,333.3 257.6,333.3 258.1,333.3 258.6,333.3 259.1,333.3 259.6,333.3 260.1,333.3 260.6,333.3 261.1,333.3 261.6,333.3 262.1,333.3 262.6,333.3 263.1,333.3 263.6,333.3 264.1,333.3 264.6,333.3 265.1,333.3 265.6,333.3 266.1,333.3 266.6,333.3 267.1,333.3 267.6,333.3 268.1,333.3 268.6,333.3 269.1,333.3 269.6,333.3 270.1,333.3 270.6,333.3 271.1,333.3 271.6,333.3 272.1,333.3 272.6,333.3 273.1,333.3 273.6,333.3 274.1,333.3 274.6,333.3 275.1,333.3 275.6,333.3 276.1,333.3 276.6,333.3 277.1,333.3 277.6,333.4 278.1,333.4 278.6,333.4 279.1,333.4 279.6,333.4 280.1,333.4 280.6,333.4 281.1,333.4 281.6,333.4 282.1,333.4 282.6,333.5 283.1,333.5 283.6,333.5 284.1,333.5 284.6,333.5 285.1,333.5 285.6,333.5 286.1,333.5 286.6,333.6 287.1,333.6 287.6,333.6 288.1,333.6 288.6,333.6 289.1,333.6 289.6,333.6 290.1,333.7 290.6,333.7 291.1,333.7 291.6,333.7 292.1,333.7 292.6,333.7 293.1,333.7 293.6,333.8 294.1,333.8 294.6,333.8 295.1,333.8 295.6,333.8 296.1,333.8 296.6,333.8 297.1,333.9 297.6,333.9 298.1,333.9 298.6,333.9 299.1,333.9 299.6,333.9 300.1,333.9 300.6,334.0 301.1,334.0 301.6,334.0 302.1,334.0 302.6,334.0 303.1,334.0 303.6,334.0 304.1,334.1 304.6,334.1 305.1,334.1 305.6,334.1 306.1,334.1 306.6,334.1 307.1,334.1 307.6,334.2 308.1,334.2 308.6,334.2 309.1,334.2 309.6,334.2 310.1,334.2 310.6,334.3 311.1,334.3 311.6,334.3 312.1,334.3 312.6,334.3 313.1,334.3 313.6,334.3 314.1,334.3 314.6,334.4 315.0,334.4" stroke="#FF4646" stroke-width="0.85"/>
</g>
<path d="M102.60 334.5 v-6 M102.60 8.0 v6" stroke="#333" stroke-width="1" fill="none"/>
<path d="M155.70 334.5 v-6 M155.70 8.0 v6" stroke="#333" stroke-width="1" fill="none"/>
<path d="M208.80 334.5 v-6 M208.80 8.0 v6" stroke="#333" stroke-width="1" fill="none"/>
<path d="M261.90 334.5 v-6 M261.90 8.0 v6" stroke="#333" stroke-width="1" fill="none"/>
<path d="M49.5 252.88 h6 M315.0 252.88 h-6" stroke="#333" stroke-width="1" fill="none"/>
<path d="M49.5 171.25 h6 M315.0 171.25 h-6" stroke="#333" stroke-width="1" fill="none"/>
<path d="M49.5 89.62 h6 M315.0 89.62 h-6" stroke="#333" stroke-width="1" fill="none"/>
<text class="ss" x="49.10" y="351.40" font-size="11" text-anchor="middle" fill="#1a1a1a" textLength="33.60" lengthAdjust="spacingAndGlyphs">200.00</text>
<text class="ss" x="102.06" y="351.40" font-size="11" text-anchor="middle" fill="#1a1a1a" textLength="33.60" lengthAdjust="spacingAndGlyphs">220.00</text>
<text class="ss" x="155.02" y="351.40" font-size="11" text-anchor="middle" fill="#1a1a1a" textLength="33.60" lengthAdjust="spacingAndGlyphs">240.00</text>
<text class="ss" x="207.98" y="351.40" font-size="11" text-anchor="middle" fill="#1a1a1a" textLength="33.60" lengthAdjust="spacingAndGlyphs">260.00</text>
<text class="ss" x="260.94" y="351.40" font-size="11" text-anchor="middle" fill="#1a1a1a" textLength="33.60" lengthAdjust="spacingAndGlyphs">280.00</text>
<text class="ss" x="313.90" y="351.40" font-size="11" text-anchor="middle" fill="#1a1a1a" textLength="33.60" lengthAdjust="spacingAndGlyphs">300.00</text>
<text class="ss" x="47.80" y="338.04" font-size="11" text-anchor="end" fill="#1a1a1a" textLength="21.80" lengthAdjust="spacingAndGlyphs">0.00</text>
<text class="ss" x="47.80" y="256.41" font-size="11" text-anchor="end" fill="#1a1a1a" textLength="21.80" lengthAdjust="spacingAndGlyphs">0.20</text>
<text class="ss" x="47.80" y="174.79" font-size="11" text-anchor="end" fill="#1a1a1a" textLength="21.80" lengthAdjust="spacingAndGlyphs">0.40</text>
<text class="ss" x="47.80" y="93.16" font-size="11" text-anchor="end" fill="#1a1a1a" textLength="21.80" lengthAdjust="spacingAndGlyphs">0.60</text>
<text class="ss" x="47.80" y="11.54" font-size="11" text-anchor="end" fill="#1a1a1a" textLength="21.80" lengthAdjust="spacingAndGlyphs">0.80</text>
<text class="ss" x="181.80" y="362.80" font-size="11" text-anchor="middle" fill="#1a1a1a">nm</text>
<text class="ss" x="9.40" y="167.00" font-size="11" text-anchor="middle" fill="#1a1a1a" textLength="21.90" lengthAdjust="spacingAndGlyphs" transform="rotate(-90 9.40 167.00)">Abs.</text>
<text class="sf" x="112.70" y="387.70" font-size="18" text-anchor="start" fill="#1a1a1a">(a)</text>
<text class="sf" x="237.50" y="387.70" font-size="18" text-anchor="end" fill="#1a1a1a">L-glutathione</text>
<rect x="400.5" y="5.7" width="268.20" height="330.30" fill="none" stroke="#666" stroke-width="1"/>
<clipPath id="clip_b"><rect x="400.5" y="5.7" width="268.70" height="330.80"/></clipPath>
<g clip-path="url(#clip_b)" fill="none" stroke-linejoin="round" stroke-linecap="round">
<polyline points="400.5,-76.9 401.8,74.5 403.2,-104.4 404.5,165.3 405.9,-131.9 407.2,-76.9 408.5,162.6 409.9,143.3 411.2,-104.4 412.6,66.3 413.9,151.6 415.3,170.8 416.6,137.8 417.9,184.6 419.3,198.4 420.6,92.4 422.0,170.8 423.3,74.5 424.6,187.4 426.0,143.3 427.3,-21.8 428.7,212.1 430.0,184.6 431.3,206.6 432.7,146.1 434.0,198.4 435.4,230.0 436.3,230.5 437.5,175.0 440.7,99.2 441.9,119.1 444.5,90.0 447.5,65.3 448.0,67.6 448.5,69.5 449.0,70.5 449.5,70.8 450.0,70.9 450.5,71.1 451.0,71.2 451.5,71.3 452.0,71.5 452.5,71.6 453.0,71.7 453.5,71.9 454.0,72.1 454.5,72.3 455.0,72.6 455.5,72.9 456.0,73.2 456.5,73.5 457.0,73.9 457.5,74.2 458.0,74.5 458.5,74.9 459.0,75.2 459.5,75.6 460.0,75.9 460.5,76.3 461.0,76.6 461.5,77.0 462.0,77.3 462.5,77.6 463.0,77.9 463.5,78.2 464.0,78.5 464.5,78.7 465.0,78.9 465.5,79.0 466.0,79.2 466.5,79.3 467.0,79.3 467.5,79.4 468.0,79.4 468.5,79.4 469.0,79.4 469.5,79.4 470.0,79.3 470.5,79.3 471.0,79.1 471.5,79.0 472.0,78.8 472.5,78.7 473.0,78.5 473.5,78.2 474.0,78.0 474.5,77.8 475.0,77.5 475.5,77.3 476.0,77.0 476.5,76.8 477.0,76.6 477.5,76.3 478.0,76.1 478.5,75.9 479.0,75.7 479.5,75.5 480.0,75.3 480.5,75.1 481.0,74.9 481.5,74.8 482.0,74.6 482.5,74.5 483.0,74.4 483.5,74.2 484.0,74.1 484.5,74.1 485.0,74.0 485.5,73.9 486.0,73.9 486.5,73.9 487.0,73.9 487.5,73.9 488.0,73.9 488.5,74.0 489.0,74.0 489.5,74.1 490.0,74.2 490.5,74.3 491.0,74.5 491.5,74.7 492.0,74.9 492.5,75.1 493.0,75.4 493.5,75.7 494.0,76.0 494.5,76.4 495.0,76.8 495.5,77.2 496.0,77.7 496.5,78.3 497.0,78.9 497.5,79.5 498.0,80.2 498.5,80.9 499.0,81.7 499.5,82.5 500.0,83.3 500.5,84.2 501.0,85.1 501.5,86.1 502.0,87.1 502.5,88.1 503.0,89.2 503.5,90.3 504.0,91.4 504.5,92.6 505.0,93.8 505.5,95.1 506.0,96.4 506.5,97.7 507.0,99.1 507.5,100.5 508.0,101.9 508.5,103.4 509.0,104.9 509.5,106.4 510.0,107.9 510.5,109.5 511.0,111.1 511.5,112.7 512.0,114.3 512.5,116.0 513.0,117.7 513.5,119.4 514.0,121.1 514.5,122.9 515.0,124.7 515.5,126.4 516.0,128.3 516.5,130.1 517.0,132.0 517.5,133.8 518.0,135.7 518.5,137.6 519.0,139.6 519.5,141.5 520.0,143.5 520.5,145.5 521.0,147.5 521.5,149.5 522.0,151.6 522.5,153.7 523.0,155.8 523.5,157.9 524.0,160.1 524.5,162.3 525.0,164.6 525.5,166.9 526.0,169.2 526.5,171.6 527.0,174.0 527.5,176.4 528.0,178.8 528.5,181.3 529.0,183.8 529.5,186.2 530.0,188.6 530.5,190.9 531.0,193.2 531.5,195.4 532.0,197.5 532.5,199.5 533.0,201.5 533.5,203.4 534.0,205.3 534.5,207.2 535.0,209.0 535.5,210.9 536.0,212.7 536.5,214.6 537.0,216.5 537.5,218.5 538.0,220.4 538.5,222.4 539.0,224.4 539.5,226.4 540.0,228.4 540.5,230.4 541.0,232.4 541.5,234.4 542.0,236.3 542.5,238.3 543.0,240.2 543.5,242.1 544.0,244.1 544.5,245.9 545.0,247.8 545.5,249.7 546.0,251.5 546.5,253.3 547.0,255.1 547.5,256.8 548.0,258.6 548.5,260.3 549.0,262.0 549.5,263.7 550.0,265.4 550.5,267.1 551.0,268.8 551.5,270.4 552.0,272.1 552.5,273.8 553.0,275.5 553.5,277.2 554.0,278.8 554.5,280.5 555.0,282.1 555.5,283.7 556.0,285.3 556.5,286.9 557.0,288.4 557.5,289.9 558.0,291.4 558.5,292.9 559.0,294.3 559.5,295.6 560.0,296.9 560.5,298.2 561.0,299.4 561.5,300.6 562.0,301.7 562.5,302.8 563.0,303.9 563.5,304.9 564.0,305.8 564.5,306.8 565.0,307.6 565.5,308.5 566.0,309.4 566.5,310.2 567.0,311.0 567.5,311.8 568.0,312.5 568.5,313.3 569.0,314.0 569.5,314.7 570.0,315.4 570.5,316.0 571.0,316.7 571.5,317.3 572.0,317.9 572.5,318.5 573.0,319.1 573.5,319.6 574.0,320.2 574.5,320.7 575.0,321.2 575.5,321.7 576.0,322.1 576.5,322.6 577.0,323.0 577.5,323.4 578.0,323.8 578.5,324.2 579.0,324.6 579.5,325.0 580.0,325.4 580.5,325.8 581.0,326.1 581.5,326.5 582.0,326.8 582.5,327.1 583.0,327.4 583.5,327.8 584.0,328.0 584.5,328.3 585.0,328.6 585.5,328.9 586.0,329.1 586.5,329.3 587.0,329.6 587.5,329.8 588.0,330.0 588.5,330.2 589.0,330.4 589.5,330.5 590.0,330.7 590.5,330.9 591.0,331.1 591.5,331.2 592.0,331.4 592.5,331.5 593.0,331.6 593.5,331.8 594.0,331.9 594.5,332.0 595.0,332.2 595.5,332.3 596.0,332.4 596.5,332.5 597.0,332.6 597.5,332.7 598.0,332.8 598.5,332.9 599.0,333.0 599.5,333.1 600.0,333.2 600.5,333.3 601.0,333.4 601.5,333.4 602.0,333.5 602.5,333.6 603.0,333.7 603.5,333.7 604.0,333.8 604.5,333.8 605.0,333.9 605.5,333.9 606.0,333.9 606.5,334.0 607.0,334.0 607.5,334.0 608.0,334.1 608.5,334.1 609.0,334.1 609.5,334.1 610.0,334.2 610.5,334.2 611.0,334.2 611.5,334.2 612.0,334.2 612.5,334.3 613.0,334.3 613.5,334.3 614.0,334.3 614.5,334.3 615.0,334.3 615.5,334.3 616.0,334.3 616.5,334.3 617.0,334.3 617.5,334.3 618.0,334.3 618.5,334.3 619.0,334.3 619.5,334.3 620.0,334.3 620.5,334.3 621.0,334.3 621.5,334.3 622.0,334.4 622.5,334.4 623.0,334.4 623.5,334.4 624.0,334.4 624.5,334.4 625.0,334.4 625.5,334.4 626.0,334.4 626.5,334.4 627.0,334.4 627.5,334.4 628.0,334.4 628.5,334.4 629.0,334.4 629.5,334.4 630.0,334.4 630.5,334.4 631.0,334.4 631.5,334.4 632.0,334.4 632.5,334.4 633.0,334.4 633.5,334.4 634.0,334.4 634.5,334.4 635.0,334.4 635.5,334.4 636.0,334.4 636.5,334.4 637.0,334.4 637.5,334.4 638.0,334.4 638.5,334.4 639.0,334.4 639.5,334.4 640.0,334.4 640.5,334.4 641.0,334.4 641.5,334.4 642.0,334.4 642.5,334.4 643.0,334.4 643.5,334.4 644.0,334.4 644.5,334.4 645.0,334.4 645.5,334.4 646.0,334.4 646.5,334.4 647.0,334.4 647.5,334.4 648.0,334.4 648.5,334.4 649.0,334.4 649.5,334.4 650.0,334.4 650.5,334.4 651.0,334.4 651.5,334.4 652.0,334.4 652.5,334.4 653.0,334.4 653.5,334.4 654.0,334.4 654.5,334.4 655.0,334.4 655.5,334.4 656.0,334.4 656.5,334.4 657.0,334.4 657.5,334.4 658.0,334.4 658.5,334.4 659.0,334.4 659.5,334.4 660.0,334.4 660.5,334.4 661.0,334.4 661.5,334.4 662.0,334.4 662.5,334.4 663.0,334.4 663.5,334.4 664.0,334.4 664.5,334.4 665.0,334.4 665.5,334.4 666.0,334.4 666.5,334.4 667.0,334.4 667.5,334.4 668.0,334.4 668.5,334.4 668.7,334.4" stroke="#1F7A1F" stroke-width="1.1"/>
<polyline points="400.5,225.9 401.8,294.7 403.2,198.4 404.5,113.0 405.9,253.4 407.2,310.1 408.5,212.1 409.9,253.4 411.2,295.8 412.6,212.1 413.9,258.9 415.3,203.9 416.6,220.4 417.9,234.2 419.3,198.4 420.6,225.9 422.0,209.4 423.3,253.4 424.6,212.1 426.0,239.7 427.3,184.6 428.7,253.4 430.0,220.4 431.3,253.4 432.7,192.9 434.0,231.4 435.4,253.4 437.8,240.0 439.7,175.0 441.9,143.4 444.1,113.9 445.6,110.7 447.0,115.1 450.0,109.5 450.5,109.5 451.0,109.5 451.5,109.5 452.0,109.6 452.5,109.6 453.0,109.7 453.5,109.8 454.0,109.9 454.5,110.1 455.0,110.3 455.5,110.5 456.0,110.8 456.5,111.1 457.0,111.5 457.5,111.8 458.0,112.2 458.5,112.5 459.0,112.9 459.5,113.3 460.0,113.6 460.5,114.0 461.0,114.4 461.5,114.7 462.0,115.1 462.5,115.4 463.0,115.7 463.5,116.0 464.0,116.3 464.5,116.6 465.0,116.8 465.5,117.0 466.0,117.1 466.5,117.2 467.0,117.3 467.5,117.4 468.0,117.4 468.5,117.4 469.0,117.4 469.5,117.3 470.0,117.3 470.5,117.2 471.0,117.2 471.5,117.1 472.0,117.0 472.5,116.9 473.0,116.8 473.5,116.7 474.0,116.5 474.5,116.4 475.0,116.3 475.5,116.1 476.0,115.9 476.5,115.8 477.0,115.6 477.5,115.5 478.0,115.3 478.5,115.1 479.0,115.0 479.5,114.8 480.0,114.7 480.5,114.6 481.0,114.5 481.5,114.3 482.0,114.2 482.5,114.1 483.0,114.0 483.5,113.9 484.0,113.9 484.5,113.8 485.0,113.7 485.5,113.7 486.0,113.7 486.5,113.6 487.0,113.6 487.5,113.7 488.0,113.7 488.5,113.7 489.0,113.8 489.5,113.9 490.0,114.0 490.5,114.1 491.0,114.2 491.5,114.4 492.0,114.6 492.5,114.8 493.0,115.0 493.5,115.3 494.0,115.6 494.5,116.0 495.0,116.4 495.5,116.8 496.0,117.3 496.5,117.8 497.0,118.3 497.5,118.9 498.0,119.5 498.5,120.1 499.0,120.8 499.5,121.4 500.0,122.2 500.5,122.9 501.0,123.8 501.5,124.6 502.0,125.5 502.5,126.4 503.0,127.3 503.5,128.3 504.0,129.4 504.5,130.4 505.0,131.5 505.5,132.7 506.0,133.8 506.5,135.0 507.0,136.2 507.5,137.5 508.0,138.8 508.5,140.1 509.0,141.4 509.5,142.7 510.0,144.1 510.5,145.4 511.0,146.8 511.5,148.2 512.0,149.6 512.5,151.0 513.0,152.4 513.5,153.8 514.0,155.3 514.5,156.7 515.0,158.1 515.5,159.6 516.0,161.0 516.5,162.5 517.0,164.0 517.5,165.4 518.0,166.9 518.5,168.4 519.0,170.0 519.5,171.5 520.0,173.1 520.5,174.7 521.0,176.4 521.5,178.1 522.0,179.9 522.5,181.7 523.0,183.5 523.5,185.3 524.0,187.1 524.5,189.0 525.0,190.8 525.5,192.6 526.0,194.4 526.5,196.2 527.0,197.9 527.5,199.7 528.0,201.4 528.5,203.1 529.0,204.8 529.5,206.5 530.0,208.2 530.5,209.9 531.0,211.7 531.5,213.4 532.0,215.2 532.5,216.9 533.0,218.7 533.5,220.5 534.0,222.3 534.5,224.2 535.0,226.0 535.5,227.8 536.0,229.7 536.5,231.5 537.0,233.4 537.5,235.2 538.0,237.0 538.5,238.9 539.0,240.7 539.5,242.6 540.0,244.4 540.5,246.2 541.0,248.0 541.5,249.7 542.0,251.5 542.5,253.2 543.0,254.9 543.5,256.6 544.0,258.3 544.5,259.9 545.0,261.6 545.5,263.2 546.0,264.7 546.5,266.3 547.0,267.8 547.5,269.4 548.0,270.8 548.5,272.3 549.0,273.8 549.5,275.2 550.0,276.6 550.5,278.0 551.0,279.4 551.5,280.8 552.0,282.1 552.5,283.4 553.0,284.7 553.5,286.0 554.0,287.3 554.5,288.5 555.0,289.8 555.5,291.0 556.0,292.2 556.5,293.4 557.0,294.6 557.5,295.8 558.0,296.9 558.5,298.0 559.0,299.2 559.5,300.2 560.0,301.3 560.5,302.4 561.0,303.4 561.5,304.4 562.0,305.4 562.5,306.3 563.0,307.2 563.5,308.1 564.0,309.0 564.5,309.9 565.0,310.7 565.5,311.5 566.0,312.3 566.5,313.0 567.0,313.7 567.5,314.4 568.0,315.1 568.5,315.8 569.0,316.4 569.5,317.1 570.0,317.7 570.5,318.2 571.0,318.8 571.5,319.4 572.0,319.9 572.5,320.4 573.0,320.9 573.5,321.4 574.0,321.9 574.5,322.3 575.0,322.7 575.5,323.2 576.0,323.6 576.5,324.0 577.0,324.4 577.5,324.8 578.0,325.1 578.5,325.5 579.0,325.9 579.5,326.2 580.0,326.5 580.5,326.9 581.0,327.2 581.5,327.5 582.0,327.8 582.5,328.1 583.0,328.3 583.5,328.6 584.0,328.8 584.5,329.1 585.0,329.3 585.5,329.5 586.0,329.8 586.5,330.0 587.0,330.2 587.5,330.3 588.0,330.5 588.5,330.7 589.0,330.9 589.5,331.0 590.0,331.2 590.5,331.3 591.0,331.5 591.5,331.6 592.0,331.8 592.5,331.9 593.0,332.0 593.5,332.2 594.0,332.3 594.5,332.4 595.0,332.5 595.5,332.7 596.0,332.8 596.5,332.9 597.0,333.0 597.5,333.1 598.0,333.2 598.5,333.3 599.0,333.3 599.5,333.4 600.0,333.5 600.5,333.6 601.0,333.7 601.5,333.7 602.0,333.8 602.5,333.9 603.0,333.9 603.5,334.0 604.0,334.1 604.5,334.1 605.0,334.2 605.5,334.2 606.0,334.3 606.5,334.3 607.0,334.4 607.5,334.4 608.0,334.5 608.5,334.5 609.0,334.5 609.5,334.6 610.0,334.6 610.5,334.6 611.0,334.6 611.5,334.6 612.0,334.7 612.5,334.7 613.0,334.7 613.5,334.7 614.0,334.7 614.5,334.8 615.0,334.8 615.5,334.8 616.0,334.8 616.5,334.8 617.0,334.8 617.5,334.8 618.0,334.9 618.5,334.9 619.0,334.9 619.5,334.9 620.0,334.9 620.5,334.9 621.0,334.9 621.5,334.9 622.0,335.0 622.5,335.0 623.0,335.0 623.5,335.0 624.0,335.0 624.5,335.0 625.0,335.0 625.5,335.0 626.0,335.0 626.5,335.0 627.0,335.1 627.5,335.1 628.0,335.1 628.5,335.1 629.0,335.1 629.5,335.1 630.0,335.1 630.5,335.1 631.0,335.1 631.5,335.1 632.0,335.1 632.5,335.1 633.0,335.1 633.5,335.1 634.0,335.1 634.5,335.2 635.0,335.2 635.5,335.2 636.0,335.2 636.5,335.2 637.0,335.2 637.5,335.2 638.0,335.2 638.5,335.2 639.0,335.2 639.5,335.2 640.0,335.2 640.5,335.2 641.0,335.2 641.5,335.2 642.0,335.2 642.5,335.2 643.0,335.2 643.5,335.2 644.0,335.2 644.5,335.2 645.0,335.2 645.5,335.2 646.0,335.2 646.5,335.2 647.0,335.2 647.5,335.2 648.0,335.2 648.5,335.2 649.0,335.2 649.5,335.3 650.0,335.3 650.5,335.3 651.0,335.3 651.5,335.3 652.0,335.3 652.5,335.3 653.0,335.3 653.5,335.3 654.0,335.3 654.5,335.3 655.0,335.3 655.5,335.3 656.0,335.3 656.5,335.3 657.0,335.3 657.5,335.3 658.0,335.3 658.5,335.3 659.0,335.3 659.5,335.3 660.0,335.3 660.5,335.3 661.0,335.3 661.5,335.3 662.0,335.3 662.5,335.3 663.0,335.3 663.5,335.3 664.0,335.3 664.5,335.3 665.0,335.3 665.5,335.3 666.0,335.3 666.5,335.3 667.0,335.3 667.5,335.3 668.0,335.3 668.5,335.3 668.7,335.3" stroke="#8C2A2A" stroke-width="1.1"/>
<polyline points="401.0,198.4 402.3,-489.8 402.8,80.0 403.3,-489.8 403.8,239.7 404.2,-489.8 404.8,253.4 405.9,253.4 407.2,275.4 408.5,225.9 409.9,175.0 411.2,258.9 412.6,225.9 413.9,151.6 415.3,225.9 416.6,239.7 417.9,153.0 419.3,220.4 420.6,198.4 422.0,159.8 423.3,231.4 424.6,198.4 426.0,245.2 427.3,192.9 428.7,253.4 430.0,212.1 431.3,264.4 432.7,220.4 434.0,267.2 435.4,234.2 437.8,240.0 440.4,175.0 442.2,152.2 443.4,159.6 446.3,150.7 449.0,154.4 451.5,152.9 452.0,153.3 452.5,153.7 453.0,154.1 453.5,154.5 454.0,154.9 454.5,155.2 455.0,155.5 455.5,155.9 456.0,156.2 456.5,156.5 457.0,156.8 457.5,157.1 458.0,157.4 458.5,157.7 459.0,157.9 459.5,158.2 460.0,158.4 460.5,158.7 461.0,158.9 461.5,159.1 462.0,159.3 462.5,159.5 463.0,159.7 463.5,159.9 464.0,160.0 464.5,160.2 465.0,160.3 465.5,160.4 466.0,160.5 466.5,160.6 467.0,160.7 467.5,160.8 468.0,160.8 468.5,160.8 469.0,160.8 469.5,160.8 470.0,160.8 470.5,160.7 471.0,160.6 471.5,160.6 472.0,160.5 472.5,160.4 473.0,160.3 473.5,160.2 474.0,160.0 474.5,159.9 475.0,159.8 475.5,159.6 476.0,159.5 476.5,159.3 477.0,159.2 477.5,159.0 478.0,158.9 478.5,158.7 479.0,158.6 479.5,158.4 480.0,158.2 480.5,158.1 481.0,158.0 481.5,157.8 482.0,157.7 482.5,157.6 483.0,157.5 483.5,157.4 484.0,157.3 484.5,157.2 485.0,157.2 485.5,157.1 486.0,157.1 486.5,157.1 487.0,157.1 487.5,157.1 488.0,157.1 488.5,157.1 489.0,157.2 489.5,157.3 490.0,157.4 490.5,157.5 491.0,157.7 491.5,157.8 492.0,158.0 492.5,158.3 493.0,158.5 493.5,158.8 494.0,159.1 494.5,159.5 495.0,159.9 495.5,160.3 496.0,160.7 496.5,161.2 497.0,161.7 497.5,162.3 498.0,162.8 498.5,163.4 499.0,164.0 499.5,164.6 500.0,165.3 500.5,165.9 501.0,166.6 501.5,167.2 502.0,167.9 502.5,168.6 503.0,169.2 503.5,169.9 504.0,170.5 504.5,171.2 505.0,171.8 505.5,172.5 506.0,173.2 506.5,174.0 507.0,174.8 507.5,175.6 508.0,176.4 508.5,177.3 509.0,178.3 509.5,179.3 510.0,180.3 510.5,181.3 511.0,182.4 511.5,183.4 512.0,184.5 512.5,185.6 513.0,186.7 513.5,187.9 514.0,189.0 514.5,190.2 515.0,191.3 515.5,192.5 516.0,193.8 516.5,195.0 517.0,196.3 517.5,197.6 518.0,198.9 518.5,200.3 519.0,201.7 519.5,203.1 520.0,204.5 520.5,205.9 521.0,207.4 521.5,208.8 522.0,210.3 522.5,211.8 523.0,213.2 523.5,214.7 524.0,216.2 524.5,217.7 525.0,219.2 525.5,220.7 526.0,222.2 526.5,223.7 527.0,225.2 527.5,226.7 528.0,228.2 528.5,229.7 529.0,231.3 529.5,232.8 530.0,234.3 530.5,235.8 531.0,237.3 531.5,238.8 532.0,240.3 532.5,241.8 533.0,243.3 533.5,244.8 534.0,246.3 534.5,247.8 535.0,249.2 535.5,250.7 536.0,252.2 536.5,253.6 537.0,255.1 537.5,256.6 538.0,258.0 538.5,259.5 539.0,260.9 539.5,262.3 540.0,263.7 540.5,265.1 541.0,266.5 541.5,267.9 542.0,269.3 542.5,270.6 543.0,272.0 543.5,273.3 544.0,274.7 544.5,276.0 545.0,277.3 545.5,278.6 546.0,279.8 546.5,281.1 547.0,282.4 547.5,283.6 548.0,284.8 548.5,286.0 549.0,287.2 549.5,288.4 550.0,289.5 550.5,290.7 551.0,291.8 551.5,292.8 552.0,293.9 552.5,294.9 553.0,295.9 553.5,296.9 554.0,297.9 554.5,298.8 555.0,299.7 555.5,300.6 556.0,301.5 556.5,302.4 557.0,303.3 557.5,304.1 558.0,305.0 558.5,305.8 559.0,306.6 559.5,307.4 560.0,308.2 560.5,309.0 561.0,309.7 561.5,310.4 562.0,311.2 562.5,311.9 563.0,312.6 563.5,313.3 564.0,314.0 564.5,314.6 565.0,315.3 565.5,315.9 566.0,316.5 566.5,317.1 567.0,317.7 567.5,318.3 568.0,318.8 568.5,319.4 569.0,319.9 569.5,320.4 570.0,320.9 570.5,321.4 571.0,321.8 571.5,322.3 572.0,322.7 572.5,323.2 573.0,323.6 573.5,324.0 574.0,324.4 574.5,324.8 575.0,325.1 575.5,325.5 576.0,325.8 576.5,326.2 577.0,326.5 577.5,326.8 578.0,327.1 578.5,327.4 579.0,327.7 579.5,328.0 580.0,328.2 580.5,328.5 581.0,328.7 581.5,329.0 582.0,329.2 582.5,329.4 583.0,329.6 583.5,329.8 584.0,330.0 584.5,330.2 585.0,330.4 585.5,330.5 586.0,330.7 586.5,330.8 587.0,331.0 587.5,331.1 588.0,331.3 588.5,331.4 589.0,331.5 589.5,331.6 590.0,331.8 590.5,331.9 591.0,332.0 591.5,332.1 592.0,332.2 592.5,332.3 593.0,332.4 593.5,332.5 594.0,332.6 594.5,332.7 595.0,332.7 595.5,332.8 596.0,332.9 596.5,333.0 597.0,333.0 597.5,333.1 598.0,333.2 598.5,333.2 599.0,333.3 599.5,333.4 600.0,333.4 600.5,333.5 601.0,333.6 601.5,333.6 602.0,333.7 602.5,333.7 603.0,333.8 603.5,333.8 604.0,333.9 604.5,333.9 605.0,334.0 605.5,334.0 606.0,334.0 606.5,334.1 607.0,334.1 607.5,334.2 608.0,334.2 608.5,334.2 609.0,334.2 609.5,334.3 610.0,334.3 610.5,334.3 611.0,334.3 611.5,334.3 612.0,334.4 612.5,334.4 613.0,334.4 613.5,334.4 614.0,334.4 614.5,334.4 615.0,334.4 615.5,334.5 616.0,334.5 616.5,334.5 617.0,334.5 617.5,334.5 618.0,334.5 618.5,334.5 619.0,334.5 619.5,334.6 620.0,334.6 620.5,334.6 621.0,334.6 621.5,334.6 622.0,334.6 622.5,334.6 623.0,334.6 623.5,334.6 624.0,334.6 624.5,334.7 625.0,334.7 625.5,334.7 626.0,334.7 626.5,334.7 627.0,334.7 627.5,334.7 628.0,334.7 628.5,334.7 629.0,334.7 629.5,334.7 630.0,334.7 630.5,334.7 631.0,334.7 631.5,334.8 632.0,334.8 632.5,334.8 633.0,334.8 633.5,334.8 634.0,334.8 634.5,334.8 635.0,334.8 635.5,334.8 636.0,334.8 636.5,334.8 637.0,334.8 637.5,334.8 638.0,334.8 638.5,334.8 639.0,334.8 639.5,334.8 640.0,334.8 640.5,334.8 641.0,334.8 641.5,334.8 642.0,334.8 642.5,334.8 643.0,334.8 643.5,334.8 644.0,334.8 644.5,334.8 645.0,334.8 645.5,334.8 646.0,334.8 646.5,334.8 647.0,334.8 647.5,334.8 648.0,334.8 648.5,334.8 649.0,334.8 649.5,334.8 650.0,334.8 650.5,334.8 651.0,334.8 651.5,334.8 652.0,334.8 652.5,334.8 653.0,334.8 653.5,334.8 654.0,334.8 654.5,334.8 655.0,334.8 655.5,334.8 656.0,334.8 656.5,334.8 657.0,334.8 657.5,334.8 658.0,334.8 658.5,334.8 659.0,334.8 659.5,334.8 660.0,334.8 660.5,334.8 661.0,334.8 661.5,334.8 662.0,334.8 662.5,334.8 663.0,334.8 663.5,334.8 664.0,334.8 664.5,334.8 665.0,334.8 665.5,334.8 666.0,334.8 666.5,334.8 667.0,334.8 667.5,334.8 668.0,334.8 668.5,334.8 668.7,334.8" stroke="#FF2DFF" stroke-width="1.1"/>
<polyline points="400.5,322.2 401.8,239.7 403.2,341.5 404.5,253.4 405.9,336.0 407.2,341.5 408.5,267.2 409.9,308.5 411.2,236.9 412.6,308.5 413.9,258.9 415.3,314.0 416.6,269.1 417.9,322.2 419.3,332.7 420.6,267.2 422.0,303.0 423.3,253.4 424.6,294.7 426.0,258.9 427.3,261.7 428.7,286.5 430.0,271.3 431.3,280.9 433.3,281.5 436.5,250.0 439.7,221.5 440.7,233.3 441.9,201.7 443.1,204.6 446.0,196.5 447.0,200.2 449.5,195.3 450.0,195.6 450.5,195.9 451.0,196.3 451.5,196.6 452.0,196.9 452.5,197.2 453.0,197.6 453.5,197.9 454.0,198.2 454.5,198.5 455.0,198.9 455.5,199.2 456.0,199.5 456.5,199.8 457.0,200.1 457.5,200.4 458.0,200.7 458.5,201.0 459.0,201.3 459.5,201.6 460.0,201.9 460.5,202.1 461.0,202.4 461.5,202.7 462.0,202.9 462.5,203.1 463.0,203.4 463.5,203.6 464.0,203.8 464.5,203.9 465.0,204.1 465.5,204.2 466.0,204.3 466.5,204.4 467.0,204.5 467.5,204.5 468.0,204.5 468.5,204.6 469.0,204.6 469.5,204.6 470.0,204.6 470.5,204.6 471.0,204.6 471.5,204.6 472.0,204.6 472.5,204.6 473.0,204.6 473.5,204.5 474.0,204.5 474.5,204.5 475.0,204.4 475.5,204.4 476.0,204.3 476.5,204.2 477.0,204.1 477.5,204.0 478.0,203.9 478.5,203.8 479.0,203.7 479.5,203.6 480.0,203.5 480.5,203.4 481.0,203.3 481.5,203.2 482.0,203.2 482.5,203.1 483.0,203.0 483.5,203.0 484.0,203.0 484.5,202.9 485.0,202.9 485.5,202.9 486.0,202.9 486.5,202.9 487.0,202.9 487.5,202.9 488.0,203.0 488.5,203.0 489.0,203.1 489.5,203.2 490.0,203.3 490.5,203.5 491.0,203.6 491.5,203.8 492.0,203.9 492.5,204.1 493.0,204.3 493.5,204.6 494.0,204.8 494.5,205.1 495.0,205.4 495.5,205.7 496.0,206.0 496.5,206.3 497.0,206.7 497.5,207.1 498.0,207.5 498.5,208.0 499.0,208.5 499.5,209.0 500.0,209.5 500.5,210.0 501.0,210.6 501.5,211.2 502.0,211.8 502.5,212.4 503.0,213.1 503.5,213.7 504.0,214.4 504.5,215.1 505.0,215.9 505.5,216.6 506.0,217.4 506.5,218.2 507.0,219.0 507.5,219.8 508.0,220.6 508.5,221.4 509.0,222.3 509.5,223.1 510.0,224.0 510.5,224.9 511.0,225.7 511.5,226.6 512.0,227.5 512.5,228.4 513.0,229.3 513.5,230.3 514.0,231.2 514.5,232.1 515.0,233.1 515.5,234.0 516.0,235.0 516.5,236.0 517.0,236.9 517.5,237.9 518.0,238.9 518.5,239.9 519.0,240.9 519.5,241.9 520.0,242.9 520.5,243.9 521.0,245.0 521.5,245.9 522.0,246.9 522.5,247.9 523.0,248.9 523.5,249.9 524.0,250.9 524.5,251.9 525.0,253.0 525.5,254.0 526.0,255.0 526.5,256.1 527.0,257.1 527.5,258.2 528.0,259.3 528.5,260.3 529.0,261.4 529.5,262.5 530.0,263.5 530.5,264.6 531.0,265.7 531.5,266.7 532.0,267.7 532.5,268.8 533.0,269.8 533.5,270.8 534.0,271.8 534.5,272.8 535.0,273.8 535.5,274.8 536.0,275.8 536.5,276.7 537.0,277.8 537.5,278.8 538.0,279.8 538.5,280.8 539.0,281.8 539.5,282.8 540.0,283.8 540.5,284.8 541.0,285.7 541.5,286.7 542.0,287.7 542.5,288.6 543.0,289.6 543.5,290.5 544.0,291.4 544.5,292.3 545.0,293.2 545.5,294.1 546.0,295.0 546.5,295.9 547.0,296.8 547.5,297.7 548.0,298.6 548.5,299.4 549.0,300.3 549.5,301.1 550.0,301.9 550.5,302.7 551.0,303.5 551.5,304.2 552.0,305.0 552.5,305.7 553.0,306.4 553.5,307.0 554.0,307.7 554.5,308.3 555.0,309.0 555.5,309.6 556.0,310.2 556.5,310.8 557.0,311.5 557.5,312.1 558.0,312.7 558.5,313.3 559.0,314.0 559.5,314.6 560.0,315.2 560.5,315.8 561.0,316.4 561.5,317.0 562.0,317.5 562.5,318.1 563.0,318.6 563.5,319.2 564.0,319.7 564.5,320.2 565.0,320.7 565.5,321.2 566.0,321.7 566.5,322.1 567.0,322.6 567.5,323.0 568.0,323.4 568.5,323.9 569.0,324.3 569.5,324.6 570.0,325.0 570.5,325.4 571.0,325.7 571.5,326.1 572.0,326.4 572.5,326.7 573.0,327.0 573.5,327.3 574.0,327.6 574.5,327.9 575.0,328.1 575.5,328.4 576.0,328.6 576.5,328.9 577.0,329.1 577.5,329.3 578.0,329.5 578.5,329.7 579.0,329.9 579.5,330.1 580.0,330.3 580.5,330.4 581.0,330.6 581.5,330.8 582.0,330.9 582.5,331.1 583.0,331.2 583.5,331.3 584.0,331.5 584.5,331.6 585.0,331.7 585.5,331.8 586.0,331.9 586.5,332.0 587.0,332.1 587.5,332.2 588.0,332.3 588.5,332.3 589.0,332.4 589.5,332.5 590.0,332.6 590.5,332.6 591.0,332.7 591.5,332.7 592.0,332.8 592.5,332.8 593.0,332.9 593.5,332.9 594.0,333.0 594.5,333.0 595.0,333.1 595.5,333.1 596.0,333.2 596.5,333.2 597.0,333.2 597.5,333.3 598.0,333.3 598.5,333.3 599.0,333.4 599.5,333.4 600.0,333.4 600.5,333.4 601.0,333.5 601.5,333.5 602.0,333.5 602.5,333.5 603.0,333.6 603.5,333.6 604.0,333.6 604.5,333.6 605.0,333.7 605.5,333.7 606.0,333.7 606.5,333.7 607.0,333.7 607.5,333.7 608.0,333.8 608.5,333.8 609.0,333.8 609.5,333.8 610.0,333.8 610.5,333.8 611.0,333.8 611.5,333.8 612.0,333.8 612.5,333.8 613.0,333.8 613.5,333.8 614.0,333.8 614.5,333.9 615.0,333.9 615.5,333.9 616.0,333.9 616.5,333.9 617.0,333.9 617.5,333.9 618.0,333.9 618.5,333.9 619.0,333.9 619.5,333.9 620.0,333.9 620.5,333.9 621.0,333.9 621.5,333.9 622.0,333.9 622.5,333.9 623.0,333.9 623.5,333.9 624.0,333.9 624.5,333.9 625.0,333.9 625.5,334.0 626.0,334.0 626.5,334.0 627.0,334.0 627.5,334.0 628.0,334.0 628.5,334.0 629.0,334.0 629.5,334.0 630.0,334.0 630.5,334.0 631.0,334.0 631.5,334.0 632.0,334.0 632.5,334.0 633.0,334.0 633.5,334.0 634.0,334.0 634.5,334.0 635.0,334.0 635.5,334.0 636.0,334.0 636.5,334.0 637.0,334.0 637.5,334.0 638.0,334.0 638.5,334.0 639.0,334.0 639.5,334.0 640.0,334.0 640.5,334.0 641.0,334.0 641.5,334.0 642.0,334.0 642.5,334.0 643.0,334.0 643.5,334.0 644.0,334.0 644.5,334.0 645.0,334.0 645.5,334.0 646.0,334.0 646.5,334.0 647.0,334.0 647.5,334.0 648.0,334.0 648.5,334.0 649.0,334.0 649.5,334.0 650.0,334.0 650.5,334.0 651.0,334.0 651.5,334.0 652.0,334.0 652.5,334.0 653.0,334.0 653.5,334.0 654.0,334.0 654.5,334.0 655.0,334.0 655.5,334.0 656.0,334.0 656.5,334.0 657.0,334.0 657.5,334.0 658.0,334.0 658.5,334.0 659.0,334.0 659.5,334.0 660.0,334.0 660.5,334.0 661.0,334.0 661.5,334.0 662.0,334.0 662.5,334.0 663.0,334.0 663.5,334.0 664.0,334.0 664.5,334.0 665.0,334.0 665.5,334.0 666.0,334.0 666.5,334.0 667.0,334.0 667.5,334.0 668.0,334.0 668.5,334.0 668.7,334.0" stroke="#FF8A2E" stroke-width="1.1"/>
<polyline points="400.5,330.5 401.8,258.9 403.2,327.7 404.5,267.2 405.9,319.5 407.2,275.4 408.5,314.0 409.9,280.9 411.2,308.5 412.6,321.4 413.9,271.9 415.3,303.0 416.6,322.8 417.9,286.5 419.3,277.6 420.6,303.0 422.0,267.7 423.3,294.7 424.6,312.1 426.0,273.2 427.3,294.7 429.0,304.7 432.6,290.6 434.4,310.4 436.8,277.9 438.2,282.9 440.4,257.6 442.2,259.5 444.5,255.9 447.0,257.9 447.5,258.0 448.0,258.1 448.5,258.2 449.0,258.3 449.5,258.4 450.0,258.5 450.5,258.6 451.0,258.6 451.5,258.7 452.0,258.8 452.5,258.8 453.0,258.9 453.5,258.9 454.0,259.0 454.5,259.1 455.0,259.1 455.5,259.1 456.0,259.2 456.5,259.2 457.0,259.3 457.5,259.3 458.0,259.3 458.5,259.3 459.0,259.3 459.5,259.3 460.0,259.3 460.5,259.3 461.0,259.3 461.5,259.2 462.0,259.2 462.5,259.1 463.0,259.0 463.5,259.0 464.0,258.9 464.5,258.8 465.0,258.7 465.5,258.6 466.0,258.6 466.5,258.5 467.0,258.4 467.5,258.3 468.0,258.2 468.5,258.1 469.0,258.0 469.5,257.9 470.0,257.8 470.5,257.7 471.0,257.6 471.5,257.5 472.0,257.4 472.5,257.3 473.0,257.2 473.5,257.1 474.0,257.0 474.5,256.8 475.0,256.7 475.5,256.6 476.0,256.5 476.5,256.4 477.0,256.3 477.5,256.2 478.0,256.1 478.5,256.0 479.0,255.9 479.5,255.8 480.0,255.7 480.5,255.6 481.0,255.5 481.5,255.5 482.0,255.4 482.5,255.4 483.0,255.3 483.5,255.3 484.0,255.2 484.5,255.2 485.0,255.1 485.5,255.1 486.0,255.1 486.5,255.1 487.0,255.1 487.5,255.1 488.0,255.1 488.5,255.1 489.0,255.1 489.5,255.1 490.0,255.2 490.5,255.2 491.0,255.2 491.5,255.3 492.0,255.4 492.5,255.4 493.0,255.5 493.5,255.6 494.0,255.7 494.5,255.9 495.0,256.0 495.5,256.2 496.0,256.3 496.5,256.5 497.0,256.7 497.5,257.0 498.0,257.2 498.5,257.5 499.0,257.8 499.5,258.1 500.0,258.4 500.5,258.8 501.0,259.1 501.5,259.5 502.0,259.9 502.5,260.2 503.0,260.7 503.5,261.1 504.0,261.5 504.5,261.9 505.0,262.4 505.5,262.9 506.0,263.3 506.5,263.8 507.0,264.3 507.5,264.8 508.0,265.3 508.5,265.8 509.0,266.3 509.5,266.9 510.0,267.4 510.5,267.9 511.0,268.5 511.5,269.0 512.0,269.6 512.5,270.2 513.0,270.7 513.5,271.3 514.0,271.9 514.5,272.5 515.0,273.1 515.5,273.7 516.0,274.3 516.5,275.0 517.0,275.6 517.5,276.3 518.0,276.9 518.5,277.6 519.0,278.2 519.5,278.9 520.0,279.6 520.5,280.2 521.0,280.9 521.5,281.6 522.0,282.2 522.5,282.9 523.0,283.6 523.5,284.2 524.0,284.9 524.5,285.6 525.0,286.2 525.5,286.9 526.0,287.6 526.5,288.3 527.0,288.9 527.5,289.6 528.0,290.3 528.5,291.0 529.0,291.6 529.5,292.3 530.0,293.0 530.5,293.6 531.0,294.3 531.5,294.9 532.0,295.6 532.5,296.2 533.0,296.9 533.5,297.5 534.0,298.1 534.5,298.7 535.0,299.4 535.5,300.0 536.0,300.6 536.5,301.2 537.0,301.8 537.5,302.3 538.0,302.9 538.5,303.5 539.0,304.1 539.5,304.6 540.0,305.2 540.5,305.8 541.0,306.3 541.5,306.9 542.0,307.5 542.5,308.0 543.0,308.6 543.5,309.1 544.0,309.7 544.5,310.2 545.0,310.8 545.5,311.3 546.0,311.8 546.5,312.3 547.0,312.8 547.5,313.3 548.0,313.7 548.5,314.2 549.0,314.6 549.5,315.1 550.0,315.5 550.5,315.9 551.0,316.3 551.5,316.7 552.0,317.1 552.5,317.5 553.0,317.9 553.5,318.2 554.0,318.6 554.5,319.0 555.0,319.3 555.5,319.7 556.0,320.0 556.5,320.3 557.0,320.6 557.5,320.9 558.0,321.2 558.5,321.5 559.0,321.8 559.5,322.1 560.0,322.4 560.5,322.7 561.0,323.0 561.5,323.3 562.0,323.6 562.5,323.9 563.0,324.2 563.5,324.5 564.0,324.8 564.5,325.1 565.0,325.4 565.5,325.7 566.0,326.0 566.5,326.3 567.0,326.6 567.5,326.9 568.0,327.2 568.5,327.5 569.0,327.8 569.5,328.0 570.0,328.3 570.5,328.5 571.0,328.8 571.5,329.0 572.0,329.2 572.5,329.4 573.0,329.6 573.5,329.8 574.0,330.0 574.5,330.2 575.0,330.4 575.5,330.5 576.0,330.7 576.5,330.8 577.0,331.0 577.5,331.1 578.0,331.2 578.5,331.4 579.0,331.5 579.5,331.6 580.0,331.7 580.5,331.8 581.0,331.9 581.5,332.0 582.0,332.1 582.5,332.2 583.0,332.3 583.5,332.3 584.0,332.4 584.5,332.5 585.0,332.6 585.5,332.6 586.0,332.7 586.5,332.8 587.0,332.8 587.5,332.9 588.0,332.9 588.5,333.0 589.0,333.0 589.5,333.1 590.0,333.1 590.5,333.1 591.0,333.2 591.5,333.2 592.0,333.2 592.5,333.2 593.0,333.3 593.5,333.3 594.0,333.3 594.5,333.3 595.0,333.3 595.5,333.4 596.0,333.4 596.5,333.4 597.0,333.4 597.5,333.4 598.0,333.4 598.5,333.4 599.0,333.4 599.5,333.4 600.0,333.5 600.5,333.5 601.0,333.5 601.5,333.5 602.0,333.5 602.5,333.5 603.0,333.5 603.5,333.5 604.0,333.5 604.5,333.5 605.0,333.5 605.5,333.5 606.0,333.5 606.5,333.5 607.0,333.6 607.5,333.6 608.0,333.6 608.5,333.6 609.0,333.6 609.5,333.6 610.0,333.6 610.5,333.6 611.0,333.6 611.5,333.6 612.0,333.6 612.5,333.6 613.0,333.6 613.5,333.6 614.0,333.6 614.5,333.6 615.0,333.6 615.5,333.6 616.0,333.6 616.5,333.6 617.0,333.6 617.5,333.6 618.0,333.6 618.5,333.6 619.0,333.6 619.5,333.6 620.0,333.6 620.5,333.6 621.0,333.6 621.5,333.6 622.0,333.6 622.5,333.6 623.0,333.6 623.5,333.6 624.0,333.6 624.5,333.6 625.0,333.6 625.5,333.6 626.0,333.6 626.5,333.6 627.0,333.6 627.5,333.6 628.0,333.6 628.5,333.6 629.0,333.6 629.5,333.6 630.0,333.6 630.5,333.6 631.0,333.6 631.5,333.6 632.0,333.6 632.5,333.6 633.0,333.6 633.5,333.6 634.0,333.6 634.5,333.6 635.0,333.6 635.5,333.6 636.0,333.6 636.5,333.6 637.0,333.6 637.5,333.6 638.0,333.6 638.5,333.6 639.0,333.6 639.5,333.6 640.0,333.6 640.5,333.6 641.0,333.6 641.5,333.6 642.0,333.6 642.5,333.6 643.0,333.6 643.5,333.6 644.0,333.6 644.5,333.6 645.0,333.6 645.5,333.6 646.0,333.6 646.5,333.6 647.0,333.6 647.5,333.6 648.0,333.6 648.5,333.6 649.0,333.6 649.5,333.6 650.0,333.6 650.5,333.6 651.0,333.6 651.5,333.6 652.0,333.6 652.5,333.6 653.0,333.6 653.5,333.6 654.0,333.6 654.5,333.6 655.0,333.6 655.5,333.6 656.0,333.6 656.5,333.6 657.0,333.6 657.5,333.6 658.0,333.6 658.5,333.6 659.0,333.6 659.5,333.6 660.0,333.6 660.5,333.6 661.0,333.6 661.5,333.6 662.0,333.6 662.5,333.6 663.0,333.6 663.5,333.6 664.0,333.6 664.5,333.6 665.0,333.6 665.5,333.6 666.0,333.6 666.5,333.6 667.0,333.6 667.5,333.6 668.0,333.6 668.5,333.6 668.7,333.6" stroke="#FF4040" stroke-width="1.1"/>
</g>
<path d="M454.14 336.0 v-6 M454.14 5.7 v6" stroke="#333" stroke-width="1" fill="none"/>
<path d="M507.78 336.0 v-6 M507.78 5.7 v6" stroke="#333" stroke-width="1" fill="none"/>
<path d="M561.42 336.0 v-6 M561.42 5.7 v6" stroke="#333" stroke-width="1" fill="none"/>
<path d="M615.06 336.0 v-6 M615.06 5.7 v6" stroke="#333" stroke-width="1" fill="none"/>
<path d="M400.5 198.38 h6 M668.7 198.38 h-6" stroke="#333" stroke-width="1" fill="none"/>
<path d="M400.5 60.75 h6 M668.7 60.75 h-6" stroke="#333" stroke-width="1" fill="none"/>
<text class="ss" x="400.00" y="352.60" font-size="11" text-anchor="middle" fill="#1a1a1a" textLength="34.60" lengthAdjust="spacingAndGlyphs">200.00</text>
<text class="ss" x="453.64" y="352.60" font-size="11" text-anchor="middle" fill="#1a1a1a" textLength="34.60" lengthAdjust="spacingAndGlyphs">220.00</text>
<text class="ss" x="507.28" y="352.60" font-size="11" text-anchor="middle" fill="#1a1a1a" textLength="34.60" lengthAdjust="spacingAndGlyphs">240.00</text>
<text class="ss" x="560.92" y="352.60" font-size="11" text-anchor="middle" fill="#1a1a1a" textLength="34.60" lengthAdjust="spacingAndGlyphs">260.00</text>
<text class="ss" x="614.56" y="352.60" font-size="11" text-anchor="middle" fill="#1a1a1a" textLength="34.60" lengthAdjust="spacingAndGlyphs">280.00</text>
<text class="ss" x="668.20" y="352.60" font-size="11" text-anchor="middle" fill="#1a1a1a" textLength="34.60" lengthAdjust="spacingAndGlyphs">300.00</text>
<text class="ss" x="398.90" y="339.54" font-size="11" text-anchor="end" fill="#1a1a1a" textLength="22.00" lengthAdjust="spacingAndGlyphs">0.00</text>
<text class="ss" x="398.90" y="201.91" font-size="11" text-anchor="end" fill="#1a1a1a" textLength="22.00" lengthAdjust="spacingAndGlyphs">0.50</text>
<text class="ss" x="398.90" y="64.29" font-size="11" text-anchor="end" fill="#1a1a1a" textLength="22.00" lengthAdjust="spacingAndGlyphs">1.00</text>
<text class="ss" x="398.90" y="9.24" font-size="11" text-anchor="end" fill="#1a1a1a" textLength="22.00" lengthAdjust="spacingAndGlyphs">1.20</text>
<text class="ss" x="534.20" y="364.20" font-size="11" text-anchor="middle" fill="#1a1a1a">nm</text>
<text class="ss" x="354.50" y="166.50" font-size="11" text-anchor="middle" fill="#1a1a1a" textLength="21.90" lengthAdjust="spacingAndGlyphs" transform="rotate(-90 354.50 166.50)">Abs.</text>
<text class="sf" x="445.20" y="389.30" font-size="18" text-anchor="start" fill="#1a1a1a" textLength="168.20" lengthAdjust="spacingAndGlyphs">(b) N-acetyl L-cysteine</text>
<rect x="207.5" y="413.5" width="280.10" height="344.80" fill="none" stroke="#444" stroke-width="1"/>
<clipPath id="clip_c"><rect x="207.5" y="413.5" width="280.60" height="345.30"/></clipPath>
<g clip-path="url(#clip_c)" fill="none" stroke-linejoin="round" stroke-linecap="round">
<polyline points="207.6,728.8 208.1,729.3 208.6,729.9 209.1,730.6 209.6,731.2 210.1,731.9 210.6,732.6 211.1,733.2 211.6,733.8 212.1,734.4 212.6,734.9 213.1,735.4 213.6,735.8 214.1,736.2 214.6,736.6 215.1,737.0 215.6,737.3 216.1,737.6 216.6,737.9 217.1,738.2 217.6,738.5 218.1,738.7 218.6,738.9 219.1,739.1 219.6,739.3 220.1,739.5 220.6,739.7 221.1,739.8 221.6,739.9 222.1,740.1 222.6,740.2 223.1,740.2 223.6,740.3 224.1,740.3 224.6,740.4 225.1,740.4 225.6,740.4 226.1,740.4 226.6,740.4 227.1,740.4 227.6,740.4 228.1,740.4 228.6,740.4 229.1,740.4 229.6,740.3 230.1,740.3 230.6,740.2 231.1,740.1 231.6,740.0 232.1,739.8 232.6,739.7 233.1,739.5 233.6,739.3 234.1,739.1 234.6,738.9 235.1,738.8 235.6,738.5 236.1,738.3 236.6,738.1 237.1,737.9 237.6,737.6 238.1,737.3 238.6,737.1 239.1,736.8 239.6,736.4 240.1,736.1 240.6,735.7 241.1,735.4 241.6,735.0 242.1,734.5 242.6,734.1 243.1,733.6 243.6,733.2 244.1,732.7 244.6,732.2 245.1,731.6 245.6,731.1 246.1,730.5 246.6,729.9 247.1,729.3 247.6,728.7 248.1,728.1 248.6,727.5 249.1,726.8 249.6,726.2 250.1,725.6 250.6,724.9 251.1,724.3 251.6,723.6 252.1,723.0 252.6,722.3 253.1,721.6 253.6,720.8 254.1,720.0 254.6,719.2 255.1,718.2 255.6,717.3 256.1,716.2 256.6,715.2 257.1,714.1 257.6,713.0 258.1,711.9 258.6,710.8 259.1,709.7 259.6,708.7 260.1,707.6 260.6,706.5 261.1,705.4 261.6,704.2 262.1,703.1 262.6,702.0 263.1,700.8 263.6,699.6 264.1,698.4 264.6,697.2 265.1,695.8 265.6,694.5 266.1,693.0 266.6,691.4 267.1,689.8 267.6,688.1 268.1,686.4 268.6,684.6 269.1,682.7 269.6,680.8 270.1,678.9 270.6,676.9 271.1,674.9 271.6,672.8 272.1,670.7 272.6,668.6 273.1,666.5 273.6,664.3 274.1,662.2 274.6,660.1 275.1,658.0 275.6,655.9 276.1,653.8 276.6,651.7 277.1,649.5 277.6,647.4 278.1,645.2 278.6,642.9 279.1,640.5 279.6,638.1 280.1,635.6 280.6,633.1 281.1,630.6 281.6,628.2 282.1,625.8 282.6,623.4 283.1,621.2 283.6,618.9 284.1,616.7 284.6,614.5 285.1,612.3 285.6,610.1 286.1,607.9 286.6,605.8 287.1,603.7 287.6,601.6 288.1,599.5 288.6,597.5 289.1,595.6 289.6,593.7 290.1,591.9 290.6,590.1 291.1,588.5 291.6,586.9 292.1,585.4 292.6,584.0 293.1,582.6 293.6,581.4 294.1,580.3 294.6,579.2 295.1,578.3 295.6,577.5 296.1,576.7 296.6,576.1 297.1,575.6 297.6,575.2 298.1,574.9 298.6,574.7 299.1,574.6 299.6,574.7 300.1,574.8 300.6,575.0 301.1,575.4 301.6,575.8 302.1,576.4 302.6,577.2 303.1,578.0 303.6,579.0 304.1,580.1 304.6,581.3 305.1,582.6 305.6,584.0 306.1,585.6 306.6,587.2 307.1,589.0 307.6,590.9 308.1,592.8 308.6,594.8 309.1,596.8 309.6,598.9 310.1,601.1 310.6,603.3 311.1,605.6 311.6,607.9 312.1,610.2 312.6,612.6 313.1,615.0 313.6,617.5 314.1,620.0 314.6,622.6 315.1,625.2 315.6,628.0 316.1,630.9 316.6,633.8 317.1,636.8 317.6,639.7 318.1,642.6 318.6,645.3 319.1,647.9 319.6,650.5 320.1,653.1 320.6,655.8 321.1,658.4 321.6,661.1 322.1,663.8 322.6,666.5 323.1,669.2 323.6,671.8 324.1,674.5 324.6,677.3 325.1,680.1 325.6,683.0 326.1,685.9 326.6,688.8 327.1,691.6 327.6,694.3 328.1,696.7 328.6,698.9 329.1,700.9 329.6,702.9 330.1,704.8 330.6,706.7 331.1,708.7 331.6,710.6 332.1,712.5 332.6,714.4 333.1,716.3 333.6,718.1 334.1,719.9 334.6,721.7 335.1,723.3 335.6,725.0 336.1,726.6 336.6,728.1 337.1,729.5 337.6,730.9 338.1,732.2 338.6,733.5 339.1,734.7 339.6,735.8 340.1,736.9 340.6,737.9 341.1,738.9 341.6,739.8 342.1,740.7 342.6,741.5 343.1,742.4 343.6,743.1 344.1,743.9 344.6,744.7 345.1,745.5 345.6,746.2 346.1,746.9 346.6,747.6 347.1,748.2 347.6,748.8 348.1,749.3 348.6,749.7 349.1,750.1 349.6,750.4 350.1,750.7 350.6,751.0 351.1,751.2 351.6,751.5 352.1,751.7 352.6,751.9 353.1,752.1 353.6,752.3 354.1,752.4 354.6,752.6 355.1,752.7 355.6,752.8 356.1,752.9 356.6,753.0 357.1,753.1 357.6,753.2 358.1,753.3 358.6,753.4 359.1,753.5 359.6,753.5 360.1,753.6 360.6,753.7 361.1,753.7 361.6,753.8 362.1,753.8 362.6,753.8 363.1,753.9 363.6,753.9 364.1,753.9 364.6,753.9 365.1,754.0 365.6,754.0 366.1,754.0 366.6,754.0 367.1,754.1 367.6,754.1 368.1,754.1 368.6,754.1 369.1,754.1 369.6,754.1 370.1,754.2 370.6,754.2 371.1,754.2 371.6,754.2 372.1,754.2 372.6,754.2 373.1,754.2 373.6,754.3 374.1,754.3 374.6,754.3 375.1,754.3 375.6,754.3 376.1,754.3 376.6,754.3 377.1,754.4 377.6,754.4 378.1,754.4 378.6,754.4 379.1,754.4 379.6,754.4 380.1,754.4 380.6,754.5 381.1,754.5 381.6,754.5 382.1,754.5 382.6,754.5 383.1,754.5 383.6,754.5 384.1,754.6 384.6,754.6 385.1,754.6 385.6,754.6 386.1,754.6 386.6,754.6 387.1,754.6 387.6,754.6 388.1,754.6 388.6,754.7 389.1,754.7 389.6,754.7 390.1,754.7 390.6,754.7 391.1,754.7 391.6,754.7 392.1,754.7 392.6,754.8 393.1,754.8 393.6,754.8 394.1,754.8 394.6,754.8 395.1,754.8 395.6,754.8 396.1,754.8 396.6,754.8 397.1,754.8 397.6,754.9 398.1,754.9 398.6,754.9 399.1,754.9 399.6,754.9 400.1,754.9 400.6,754.9 401.1,754.9 401.6,754.9 402.1,754.9 402.6,754.9 403.1,755.0 403.6,755.0 404.1,755.0 404.6,755.0 405.1,755.0 405.6,755.0 406.1,755.0 406.6,755.0 407.1,755.0 407.6,755.0 408.1,755.0 408.6,755.1 409.1,755.1 409.6,755.1 410.1,755.1 410.6,755.1 411.1,755.1 411.6,755.1 412.1,755.1 412.6,755.1 413.1,755.1 413.6,755.1 414.1,755.1 414.6,755.1 415.1,755.2 415.6,755.2 416.1,755.2 416.6,755.2 417.1,755.2 417.6,755.2 418.1,755.2 418.6,755.2 419.1,755.2 419.6,755.2 420.1,755.2 420.6,755.2 421.1,755.2 421.6,755.2 422.1,755.3 422.6,755.3 423.1,755.3 423.6,755.3 424.1,755.3 424.6,755.3 425.1,755.3 425.6,755.3 426.1,755.3 426.6,755.3 427.1,755.3 427.6,755.3 428.1,755.3 428.6,755.3 429.1,755.4 429.6,755.4 430.1,755.4 430.6,755.4 431.1,755.4 431.6,755.4 432.1,755.4 432.6,755.4 433.1,755.4 433.6,755.4 434.1,755.4 434.6,755.4 435.1,755.4 435.6,755.4 436.1,755.4 436.6,755.5 437.1,755.5 437.6,755.5 438.1,755.5 438.6,755.5 439.1,755.5 439.6,755.5 440.1,755.5 440.6,755.5 441.1,755.5 441.6,755.5 442.1,755.5 442.6,755.5 443.1,755.5 443.6,755.5 444.1,755.6 444.6,755.6 445.1,755.6 445.6,755.6 446.1,755.6 446.6,755.6 447.1,755.6 447.6,755.6 448.1,755.6 448.6,755.6 449.1,755.6 449.6,755.6 450.1,755.6 450.6,755.6 451.1,755.6 451.6,755.7 452.1,755.7 452.6,755.7 453.1,755.7 453.6,755.7 454.1,755.7 454.6,755.7 455.1,755.7 455.6,755.7 456.1,755.7 456.6,755.7 457.1,755.7 457.6,755.7 458.1,755.7 458.6,755.7 459.1,755.8 459.6,755.8 460.1,755.8 460.6,755.8 461.1,755.8 461.6,755.8 462.1,755.8 462.6,755.8 463.1,755.8 463.6,755.8 464.1,755.8 464.6,755.8 465.1,755.8 465.6,755.8 466.1,755.8 466.6,755.8 467.1,755.9 467.6,755.9 468.1,755.9 468.6,755.9 469.1,755.9 469.6,755.9 470.1,755.9 470.6,755.9 471.1,755.9 471.6,755.9 472.1,755.9 472.6,755.9 473.1,755.9 473.6,755.9 474.1,755.9 474.6,755.9 475.1,756.0 475.6,756.0 476.1,756.0 476.6,756.0 477.1,756.0 477.6,756.0 478.1,756.0 478.6,756.0 479.1,756.0 479.6,756.0 480.1,756.0 480.6,756.0 481.1,756.0 481.6,756.0 482.1,756.0 482.6,756.0 483.1,756.0 483.6,756.1 484.1,756.1 484.6,756.1 485.1,756.1 485.6,756.1 486.1,756.1 486.6,756.1 487.1,756.1 487.6,756.1" stroke="#FF2CFF" stroke-width="1.3"/>
<polyline points="207.6,739.3 208.1,739.7 208.6,740.2 209.1,740.7 209.6,741.3 210.1,741.8 210.6,742.3 211.1,742.8 211.6,743.2 212.1,743.6 212.6,744.0 213.1,744.4 213.6,744.7 214.1,745.0 214.6,745.3 215.1,745.5 215.6,745.8 216.1,746.0 216.6,746.2 217.1,746.4 217.6,746.5 218.1,746.7 218.6,746.8 219.1,746.9 219.6,747.1 220.1,747.2 220.6,747.3 221.1,747.3 221.6,747.4 222.1,747.5 222.6,747.6 223.1,747.6 223.6,747.6 224.1,747.7 224.6,747.7 225.1,747.7 225.6,747.7 226.1,747.7 226.6,747.6 227.1,747.6 227.6,747.6 228.1,747.6 228.6,747.5 229.1,747.5 229.6,747.4 230.1,747.4 230.6,747.3 231.1,747.2 231.6,747.1 232.1,747.0 232.6,746.9 233.1,746.8 233.6,746.6 234.1,746.5 234.6,746.3 235.1,746.2 235.6,746.0 236.1,745.8 236.6,745.6 237.1,745.4 237.6,745.2 238.1,744.9 238.6,744.7 239.1,744.4 239.6,744.2 240.1,743.9 240.6,743.6 241.1,743.3 241.6,743.0 242.1,742.7 242.6,742.4 243.1,742.1 243.6,741.7 244.1,741.4 244.6,741.0 245.1,740.7 245.6,740.3 246.1,739.9 246.6,739.6 247.1,739.2 247.6,738.8 248.1,738.4 248.6,737.9 249.1,737.5 249.6,737.0 250.1,736.5 250.6,736.0 251.1,735.4 251.6,734.8 252.1,734.2 252.6,733.6 253.1,732.9 253.6,732.2 254.1,731.5 254.6,730.7 255.1,730.0 255.6,729.2 256.1,728.4 256.6,727.5 257.1,726.7 257.6,725.8 258.1,724.9 258.6,724.0 259.1,723.1 259.6,722.2 260.1,721.2 260.6,720.3 261.1,719.3 261.6,718.3 262.1,717.3 262.6,716.3 263.1,715.3 263.6,714.2 264.1,713.1 264.6,712.1 265.1,711.0 265.6,709.9 266.1,708.8 266.6,707.7 267.1,706.7 267.6,705.6 268.1,704.6 268.6,703.7 269.1,702.7 269.6,701.6 270.1,700.5 270.6,699.3 271.1,698.0 271.6,696.6 272.1,695.0 272.6,693.4 273.1,691.8 273.6,690.1 274.1,688.4 274.6,686.7 275.1,685.0 275.6,683.3 276.1,681.5 276.6,679.8 277.1,678.0 277.6,676.2 278.1,674.5 278.6,672.7 279.1,670.9 279.6,669.1 280.1,667.4 280.6,665.6 281.1,663.8 281.6,662.0 282.1,660.3 282.6,658.5 283.1,656.8 283.6,655.1 284.1,653.4 284.6,651.7 285.1,650.0 285.6,648.3 286.1,646.6 286.6,644.9 287.1,643.3 287.6,641.7 288.1,640.1 288.6,638.6 289.1,637.1 289.6,635.6 290.1,634.2 290.6,632.9 291.1,631.5 291.6,630.3 292.1,629.1 292.6,628.0 293.1,626.9 293.6,626.0 294.1,625.1 294.6,624.2 295.1,623.5 295.6,622.8 296.1,622.2 296.6,621.6 297.1,621.2 297.6,620.8 298.1,620.6 298.6,620.4 299.1,620.3 299.6,620.3 300.1,620.4 300.6,620.6 301.1,621.0 301.6,621.4 302.1,621.9 302.6,622.5 303.1,623.2 303.6,623.9 304.1,624.8 304.6,625.8 305.1,626.8 305.6,627.9 306.1,629.0 306.6,630.2 307.1,631.5 307.6,632.9 308.1,634.2 308.6,635.7 309.1,637.1 309.6,638.6 310.1,640.1 310.6,641.7 311.1,643.4 311.6,645.2 312.1,647.1 312.6,649.1 313.1,651.2 313.6,653.3 314.1,655.3 314.6,657.4 315.1,659.4 315.6,661.4 316.1,663.5 316.6,665.5 317.1,667.6 317.6,669.7 318.1,671.9 318.6,674.0 319.1,676.2 319.6,678.5 320.1,680.7 320.6,683.0 321.1,685.2 321.6,687.4 322.1,689.5 322.6,691.6 323.1,693.6 323.6,695.6 324.1,697.5 324.6,699.4 325.1,701.3 325.6,703.2 326.1,705.0 326.6,706.9 327.1,708.8 327.6,710.7 328.1,712.5 328.6,714.4 329.1,716.2 329.6,717.9 330.1,719.6 330.6,721.3 331.1,723.0 331.6,724.6 332.1,726.1 332.6,727.7 333.1,729.1 333.6,730.6 334.1,732.0 334.6,733.3 335.1,734.6 335.6,735.8 336.1,737.0 336.6,738.1 337.1,739.2 337.6,740.2 338.1,741.2 338.6,742.1 339.1,743.1 339.6,743.9 340.1,744.7 340.6,745.5 341.1,746.2 341.6,746.8 342.1,747.4 342.6,747.9 343.1,748.4 343.6,748.9 344.1,749.4 344.6,749.8 345.1,750.2 345.6,750.5 346.1,750.9 346.6,751.2 347.1,751.6 347.6,751.9 348.1,752.2 348.6,752.5 349.1,752.8 349.6,753.1 350.1,753.3 350.6,753.6 351.1,753.8 351.6,754.0 352.1,754.2 352.6,754.4 353.1,754.5 353.6,754.7 354.1,754.8 354.6,754.9 355.1,755.0 355.6,755.1 356.1,755.2 356.6,755.3 357.1,755.4 357.6,755.4 358.1,755.5 358.6,755.6 359.1,755.6 359.6,755.7 360.1,755.7 360.6,755.7 361.1,755.8 361.6,755.8 362.1,755.8 362.6,755.8 363.1,755.8 363.6,755.8 364.1,755.8 364.6,755.8 365.1,755.8 365.6,755.8 366.1,755.8 366.6,755.9 367.1,755.9 367.6,755.9 368.1,755.9 368.6,755.9 369.1,755.9 369.6,755.9 370.1,755.9 370.6,755.9 371.1,755.9 371.6,755.9 372.1,755.9 372.6,755.9 373.1,755.9 373.6,755.9 374.1,755.9 374.6,755.9 375.1,755.9 375.6,755.9 376.1,755.9 376.6,755.9 377.1,755.9 377.6,755.9 378.1,755.9 378.6,755.9 379.1,755.9 379.6,755.9 380.1,755.9 380.6,755.9 381.1,755.9 381.6,755.9 382.1,755.9 382.6,755.9 383.1,755.9 383.6,755.9 384.1,755.9 384.6,755.9 385.1,755.9 385.6,755.9 386.1,755.9 386.6,755.9 387.1,755.9 387.6,756.0 388.1,756.0 388.6,756.0 389.1,756.0 389.6,756.0 390.1,756.0 390.6,756.0 391.1,756.0 391.6,756.0 392.1,756.0 392.6,756.0 393.1,756.0 393.6,756.0 394.1,756.0 394.6,756.0 395.1,756.0 395.6,756.0 396.1,756.0 396.6,756.0 397.1,756.0 397.6,756.0 398.1,756.0 398.6,756.0 399.1,756.0 399.6,756.0 400.1,756.0 400.6,756.0 401.1,756.0 401.6,756.0 402.1,756.0 402.6,756.0 403.1,756.0 403.6,756.0 404.1,756.0 404.6,756.0 405.1,756.0 405.6,756.0 406.1,756.0 406.6,756.0 407.1,756.0 407.6,756.0 408.1,756.1 408.6,756.1 409.1,756.1 409.6,756.1 410.1,756.1 410.6,756.1 411.1,756.1 411.6,756.1 412.1,756.1 412.6,756.1 413.1,756.1 413.6,756.1 414.1,756.1 414.6,756.1 415.1,756.1 415.6,756.1 416.1,756.1 416.6,756.1 417.1,756.1 417.6,756.1 418.1,756.1 418.6,756.1 419.1,756.1 419.6,756.1 420.1,756.1 420.6,756.1 421.1,756.1 421.6,756.1 422.1,756.2 422.6,756.2 423.1,756.2 423.6,756.2 424.1,756.2 424.6,756.2 425.1,756.2 425.6,756.2 426.1,756.2 426.6,756.2 427.1,756.2 427.6,756.2 428.1,756.2 428.6,756.2 429.1,756.2 429.6,756.2 430.1,756.2 430.6,756.2 431.1,756.2 431.6,756.2 432.1,756.2 432.6,756.2 433.1,756.2 433.6,756.2 434.1,756.2 434.6,756.3 435.1,756.3 435.6,756.3 436.1,756.3 436.6,756.3 437.1,756.3 437.6,756.3 438.1,756.3 438.6,756.3 439.1,756.3 439.6,756.3 440.1,756.3 440.6,756.3 441.1,756.3 441.6,756.3 442.1,756.3 442.6,756.3 443.1,756.3 443.6,756.3 444.1,756.3 444.6,756.3 445.1,756.3 445.6,756.4 446.1,756.4 446.6,756.4 447.1,756.4 447.6,756.4 448.1,756.4 448.6,756.4 449.1,756.4 449.6,756.4 450.1,756.4 450.6,756.4 451.1,756.4 451.6,756.4 452.1,756.4 452.6,756.4 453.1,756.4 453.6,756.4 454.1,756.4 454.6,756.4 455.1,756.4 455.6,756.4 456.1,756.5 456.6,756.5 457.1,756.5 457.6,756.5 458.1,756.5 458.6,756.5 459.1,756.5 459.6,756.5 460.1,756.5 460.6,756.5 461.1,756.5 461.6,756.5 462.1,756.5 462.6,756.5 463.1,756.5 463.6,756.5 464.1,756.5 464.6,756.5 465.1,756.5 465.6,756.5 466.1,756.6 466.6,756.6 467.1,756.6 467.6,756.6 468.1,756.6 468.6,756.6 469.1,756.6 469.6,756.6 470.1,756.6 470.6,756.6 471.1,756.6 471.6,756.6 472.1,756.6 472.6,756.6 473.1,756.6 473.6,756.6 474.1,756.6 474.6,756.6 475.1,756.7 475.6,756.7 476.1,756.7 476.6,756.7 477.1,756.7 477.6,756.7 478.1,756.7 478.6,756.7 479.1,756.7 479.6,756.7 480.1,756.7 480.6,756.7 481.1,756.7 481.6,756.7 482.1,756.7 482.6,756.7 483.1,756.7 483.6,756.8 484.1,756.8 484.6,756.8 485.1,756.8 485.6,756.8 486.1,756.8 486.6,756.8 487.1,756.8 487.6,756.8" stroke="#3CF03C" stroke-width="1.3"/>
<polyline points="207.6,738.2 208.1,738.5 208.6,738.9 209.1,739.4 209.6,739.9 210.1,740.4 210.6,740.8 211.1,741.3 211.6,741.7 212.1,742.1 212.6,742.5 213.1,742.8 213.6,743.2 214.1,743.5 214.6,743.8 215.1,744.0 215.6,744.3 216.1,744.5 216.6,744.7 217.1,744.9 217.6,745.1 218.1,745.3 218.6,745.5 219.1,745.6 219.6,745.8 220.1,745.9 220.6,746.0 221.1,746.2 221.6,746.3 222.1,746.4 222.6,746.5 223.1,746.6 223.6,746.7 224.1,746.8 224.6,746.8 225.1,746.9 225.6,746.9 226.1,747.0 226.6,747.0 227.1,747.0 227.6,747.0 228.1,747.1 228.6,747.1 229.1,747.1 229.6,747.1 230.1,747.1 230.6,747.1 231.1,747.0 231.6,747.0 232.1,747.0 232.6,747.0 233.1,746.9 233.6,746.9 234.1,746.8 234.6,746.8 235.1,746.7 235.6,746.6 236.1,746.5 236.6,746.4 237.1,746.3 237.6,746.1 238.1,746.0 238.6,745.8 239.1,745.6 239.6,745.5 240.1,745.3 240.6,745.1 241.1,744.9 241.6,744.7 242.1,744.5 242.6,744.2 243.1,744.0 243.6,743.7 244.1,743.5 244.6,743.2 245.1,742.9 245.6,742.6 246.1,742.3 246.6,742.0 247.1,741.6 247.6,741.3 248.1,740.9 248.6,740.5 249.1,740.1 249.6,739.7 250.1,739.2 250.6,738.7 251.1,738.2 251.6,737.6 252.1,737.0 252.6,736.4 253.1,735.7 253.6,735.1 254.1,734.4 254.6,733.7 255.1,733.0 255.6,732.3 256.1,731.5 256.6,730.8 257.1,730.0 257.6,729.3 258.1,728.5 258.6,727.7 259.1,726.9 259.6,726.1 260.1,725.3 260.6,724.4 261.1,723.6 261.6,722.7 262.1,721.8 262.6,720.9 263.1,720.0 263.6,719.1 264.1,718.1 264.6,717.1 265.1,716.1 265.6,715.1 266.1,714.1 266.6,713.1 267.1,712.0 267.6,711.1 268.1,710.1 268.6,709.1 269.1,708.2 269.6,707.2 270.1,706.3 270.6,705.4 271.1,704.4 271.6,703.5 272.1,702.5 272.6,701.6 273.1,700.6 273.6,699.5 274.1,698.5 274.6,697.4 275.1,696.3 275.6,695.1 276.1,693.9 276.6,692.6 277.1,691.2 277.6,689.9 278.1,688.5 278.6,687.0 279.1,685.6 279.6,684.1 280.1,682.6 280.6,681.1 281.1,679.6 281.6,678.1 282.1,676.6 282.6,675.2 283.1,673.7 283.6,672.3 284.1,671.0 284.6,669.6 285.1,668.3 285.6,667.1 286.1,665.9 286.6,664.7 287.1,663.7 287.6,662.7 288.1,661.8 288.6,660.9 289.1,660.1 289.6,659.4 290.1,658.8 290.6,658.2 291.1,657.6 291.6,657.1 292.1,656.6 292.6,656.2 293.1,655.8 293.6,655.5 294.1,655.1 294.6,654.9 295.1,654.6 295.6,654.4 296.1,654.2 296.6,654.0 297.1,653.9 297.6,653.8 298.1,653.8 298.6,653.7 299.1,653.7 299.6,653.8 300.1,653.8 300.6,654.0 301.1,654.1 301.6,654.4 302.1,654.6 302.6,654.9 303.1,655.3 303.6,655.7 304.1,656.1 304.6,656.6 305.1,657.1 305.6,657.7 306.1,658.2 306.6,658.8 307.1,659.5 307.6,660.2 308.1,660.9 308.6,661.7 309.1,662.5 309.6,663.4 310.1,664.4 310.6,665.5 311.1,666.6 311.6,667.7 312.1,669.0 312.6,670.3 313.1,671.6 313.6,673.0 314.1,674.4 314.6,675.9 315.1,677.3 315.6,678.8 316.1,680.4 316.6,682.0 317.1,683.7 317.6,685.4 318.1,687.2 318.6,689.0 319.1,690.9 319.6,692.8 320.1,694.7 320.6,696.5 321.1,698.3 321.6,700.0 322.1,701.7 322.6,703.4 323.1,705.0 323.6,706.7 324.1,708.4 324.6,710.1 325.1,711.8 325.6,713.5 326.1,715.2 326.6,716.9 327.1,718.6 327.6,720.2 328.1,721.8 328.6,723.4 329.1,724.9 329.6,726.4 330.1,727.8 330.6,729.2 331.1,730.5 331.6,731.8 332.1,733.0 332.6,734.2 333.1,735.4 333.6,736.5 334.1,737.6 334.6,738.6 335.1,739.6 335.6,740.5 336.1,741.3 336.6,742.1 337.1,742.9 337.6,743.7 338.1,744.4 338.6,745.1 339.1,745.7 339.6,746.3 340.1,746.9 340.6,747.5 341.1,748.0 341.6,748.4 342.1,748.9 342.6,749.3 343.1,749.7 343.6,750.1 344.1,750.5 344.6,751.0 345.1,751.4 345.6,751.7 346.1,752.1 346.6,752.5 347.1,752.8 347.6,753.1 348.1,753.3 348.6,753.5 349.1,753.8 349.6,754.0 350.1,754.1 350.6,754.3 351.1,754.4 351.6,754.6 352.1,754.7 352.6,754.8 353.1,754.9 353.6,755.0 354.1,755.1 354.6,755.2 355.1,755.3 355.6,755.4 356.1,755.4 356.6,755.5 357.1,755.5 357.6,755.6 358.1,755.6 358.6,755.7 359.1,755.7 359.6,755.8 360.1,755.8 360.6,755.8 361.1,755.9 361.6,755.9 362.1,755.9 362.6,755.9 363.1,755.9 363.6,755.9 364.1,755.9 364.6,755.9 365.1,755.9 365.6,755.9 366.1,755.9 366.6,756.0 367.1,756.0 367.6,756.0 368.1,756.0 368.6,756.0 369.1,756.0 369.6,756.0 370.1,756.0 370.6,756.0 371.1,756.0 371.6,756.0 372.1,756.0 372.6,756.0 373.1,756.0 373.6,756.0 374.1,756.0 374.6,756.0 375.1,756.0 375.6,756.0 376.1,756.0 376.6,756.0 377.1,756.0 377.6,756.0 378.1,756.0 378.6,756.0 379.1,756.0 379.6,756.0 380.1,756.0 380.6,756.0 381.1,756.0 381.6,756.0 382.1,756.0 382.6,756.0 383.1,756.0 383.6,756.0 384.1,756.0 384.6,756.0 385.1,756.0 385.6,756.0 386.1,756.0 386.6,756.0 387.1,756.0 387.6,756.0 388.1,756.1 388.6,756.1 389.1,756.1 389.6,756.1 390.1,756.1 390.6,756.1 391.1,756.1 391.6,756.1 392.1,756.1 392.6,756.1 393.1,756.1 393.6,756.1 394.1,756.1 394.6,756.1 395.1,756.1 395.6,756.1 396.1,756.1 396.6,756.1 397.1,756.1 397.6,756.1 398.1,756.1 398.6,756.1 399.1,756.1 399.6,756.1 400.1,756.1 400.6,756.1 401.1,756.1 401.6,756.1 402.1,756.1 402.6,756.1 403.1,756.1 403.6,756.1 404.1,756.1 404.6,756.1 405.1,756.1 405.6,756.1 406.1,756.1 406.6,756.1 407.1,756.1 407.6,756.1 408.1,756.2 408.6,756.2 409.1,756.2 409.6,756.2 410.1,756.2 410.6,756.2 411.1,756.2 411.6,756.2 412.1,756.2 412.6,756.2 413.1,756.2 413.6,756.2 414.1,756.2 414.6,756.2 415.1,756.2 415.6,756.2 416.1,756.2 416.6,756.2 417.1,756.2 417.6,756.2 418.1,756.2 418.6,756.2 419.1,756.2 419.6,756.2 420.1,756.2 420.6,756.2 421.1,756.2 421.6,756.2 422.1,756.3 422.6,756.3 423.1,756.3 423.6,756.3 424.1,756.3 424.6,756.3 425.1,756.3 425.6,756.3 426.1,756.3 426.6,756.3 427.1,756.3 427.6,756.3 428.1,756.3 428.6,756.3 429.1,756.3 429.6,756.3 430.1,756.3 430.6,756.3 431.1,756.3 431.6,756.3 432.1,756.3 432.6,756.3 433.1,756.3 433.6,756.3 434.1,756.3 434.6,756.4 435.1,756.4 435.6,756.4 436.1,756.4 436.6,756.4 437.1,756.4 437.6,756.4 438.1,756.4 438.6,756.4 439.1,756.4 439.6,756.4 440.1,756.4 440.6,756.4 441.1,756.4 441.6,756.4 442.1,756.4 442.6,756.4 443.1,756.4 443.6,756.4 444.1,756.4 444.6,756.4 445.1,756.4 445.6,756.5 446.1,756.5 446.6,756.5 447.1,756.5 447.6,756.5 448.1,756.5 448.6,756.5 449.1,756.5 449.6,756.5 450.1,756.5 450.6,756.5 451.1,756.5 451.6,756.5 452.1,756.5 452.6,756.5 453.1,756.5 453.6,756.5 454.1,756.5 454.6,756.5 455.1,756.5 455.6,756.5 456.1,756.6 456.6,756.6 457.1,756.6 457.6,756.6 458.1,756.6 458.6,756.6 459.1,756.6 459.6,756.6 460.1,756.6 460.6,756.6 461.1,756.6 461.6,756.6 462.1,756.6 462.6,756.6 463.1,756.6 463.6,756.6 464.1,756.6 464.6,756.6 465.1,756.6 465.6,756.6 466.1,756.7 466.6,756.7 467.1,756.7 467.6,756.7 468.1,756.7 468.6,756.7 469.1,756.7 469.6,756.7 470.1,756.7 470.6,756.7 471.1,756.7 471.6,756.7 472.1,756.7 472.6,756.7 473.1,756.7 473.6,756.7 474.1,756.7 474.6,756.7 475.1,756.8 475.6,756.8 476.1,756.8 476.6,756.8 477.1,756.8 477.6,756.8 478.1,756.8 478.6,756.8 479.1,756.8 479.6,756.8 480.1,756.8 480.6,756.8 481.1,756.8 481.6,756.8 482.1,756.8 482.6,756.8 483.1,756.8 483.6,756.9 484.1,756.9 484.6,756.9 485.1,756.9 485.6,756.9 486.1,756.9 486.6,756.9 487.1,756.9 487.6,756.9" stroke="#3C3CFF" stroke-width="1.3"/>
<polyline points="207.6,733.1 208.1,733.5 208.6,734.0 209.1,734.6 209.6,735.2 210.1,735.8 210.6,736.4 211.1,736.9 211.6,737.4 212.1,737.9 212.6,738.4 213.1,738.8 213.6,739.2 214.1,739.6 214.6,740.0 215.1,740.3 215.6,740.7 216.1,741.0 216.6,741.3 217.1,741.7 217.6,742.0 218.1,742.2 218.6,742.5 219.1,742.8 219.6,743.0 220.1,743.2 220.6,743.4 221.1,743.6 221.6,743.8 222.1,744.0 222.6,744.2 223.1,744.3 223.6,744.4 224.1,744.6 224.6,744.7 225.1,744.8 225.6,744.9 226.1,745.0 226.6,745.1 227.1,745.2 227.6,745.3 228.1,745.3 228.6,745.4 229.1,745.5 229.6,745.5 230.1,745.6 230.6,745.6 231.1,745.6 231.6,745.7 232.1,745.7 232.6,745.7 233.1,745.8 233.6,745.8 234.1,745.8 234.6,745.8 235.1,745.8 235.6,745.8 236.1,745.7 236.6,745.7 237.1,745.7 237.6,745.7 238.1,745.6 238.6,745.6 239.1,745.5 239.6,745.5 240.1,745.4 240.6,745.4 241.1,745.3 241.6,745.2 242.1,745.1 242.6,745.0 243.1,744.9 243.6,744.8 244.1,744.7 244.6,744.6 245.1,744.5 245.6,744.4 246.1,744.3 246.6,744.2 247.1,744.0 247.6,743.9 248.1,743.7 248.6,743.6 249.1,743.4 249.6,743.3 250.1,743.1 250.6,743.0 251.1,742.8 251.6,742.6 252.1,742.4 252.6,742.2 253.1,742.0 253.6,741.8 254.1,741.6 254.6,741.4 255.1,741.1 255.6,740.8 256.1,740.5 256.6,740.2 257.1,739.9 257.6,739.6 258.1,739.3 258.6,738.9 259.1,738.5 259.6,738.1 260.1,737.7 260.6,737.3 261.1,736.9 261.6,736.4 262.1,736.0 262.6,735.5 263.1,734.9 263.6,734.4 264.1,733.8 264.6,733.2 265.1,732.6 265.6,732.0 266.1,731.3 266.6,730.7 267.1,730.0 267.6,729.3 268.1,728.6 268.6,727.9 269.1,727.2 269.6,726.4 270.1,725.7 270.6,724.9 271.1,724.1 271.6,723.4 272.1,722.6 272.6,721.8 273.1,720.9 273.6,720.1 274.1,719.3 274.6,718.4 275.1,717.6 275.6,716.7 276.1,715.9 276.6,715.0 277.1,714.2 277.6,713.4 278.1,712.5 278.6,711.7 279.1,710.8 279.6,710.0 280.1,709.2 280.6,708.4 281.1,707.6 281.6,706.8 282.1,706.0 282.6,705.3 283.1,704.5 283.6,703.8 284.1,703.0 284.6,702.3 285.1,701.6 285.6,701.0 286.1,700.3 286.6,699.7 287.1,699.0 287.6,698.4 288.1,697.8 288.6,697.2 289.1,696.6 289.6,696.0 290.1,695.3 290.6,694.7 291.1,694.1 291.6,693.5 292.1,692.9 292.6,692.3 293.1,691.8 293.6,691.4 294.1,691.0 294.6,690.6 295.1,690.3 295.6,690.0 296.1,689.8 296.6,689.5 297.1,689.4 297.6,689.2 298.1,689.1 298.6,689.0 299.1,689.0 299.6,689.0 300.1,689.1 300.6,689.2 301.1,689.4 301.6,689.7 302.1,690.0 302.6,690.4 303.1,690.8 303.6,691.3 304.1,691.7 304.6,692.2 305.1,692.7 305.6,693.2 306.1,693.8 306.6,694.3 307.1,694.9 307.6,695.5 308.1,696.2 308.6,696.8 309.1,697.5 309.6,698.2 310.1,699.0 310.6,699.8 311.1,700.6 311.6,701.5 312.1,702.4 312.6,703.4 313.1,704.4 313.6,705.4 314.1,706.4 314.6,707.4 315.1,708.5 315.6,709.5 316.1,710.5 316.6,711.5 317.1,712.5 317.6,713.5 318.1,714.6 318.6,715.6 319.1,716.6 319.6,717.6 320.1,718.6 320.6,719.6 321.1,720.6 321.6,721.6 322.1,722.6 322.6,723.6 323.1,724.6 323.6,725.6 324.1,726.6 324.6,727.6 325.1,728.5 325.6,729.5 326.1,730.4 326.6,731.4 327.1,732.3 327.6,733.2 328.1,734.1 328.6,734.9 329.1,735.8 329.6,736.6 330.1,737.4 330.6,738.2 331.1,739.0 331.6,739.7 332.1,740.4 332.6,741.1 333.1,741.8 333.6,742.4 334.1,743.0 334.6,743.6 335.1,744.2 335.6,744.7 336.1,745.2 336.6,745.7 337.1,746.2 337.6,746.7 338.1,747.1 338.6,747.5 339.1,747.9 339.6,748.3 340.1,748.7 340.6,749.1 341.1,749.4 341.6,749.8 342.1,750.1 342.6,750.5 343.1,750.8 343.6,751.1 344.1,751.5 344.6,751.8 345.1,752.1 345.6,752.4 346.1,752.7 346.6,753.0 347.1,753.2 347.6,753.4 348.1,753.6 348.6,753.8 349.1,754.0 349.6,754.2 350.1,754.3 350.6,754.5 351.1,754.6 351.6,754.7 352.1,754.8 352.6,754.9 353.1,755.0 353.6,755.1 354.1,755.2 354.6,755.2 355.1,755.3 355.6,755.4 356.1,755.4 356.6,755.5 357.1,755.5 357.6,755.6 358.1,755.6 358.6,755.7 359.1,755.7 359.6,755.8 360.1,755.8 360.6,755.8 361.1,755.9 361.6,755.9 362.1,755.9 362.6,755.9 363.1,755.9 363.6,755.9 364.1,755.9 364.6,755.9 365.1,755.9 365.6,755.9 366.1,755.9 366.6,756.0 367.1,756.0 367.6,756.0 368.1,756.0 368.6,756.0 369.1,756.0 369.6,756.0 370.1,756.0 370.6,756.0 371.1,756.0 371.6,756.0 372.1,756.0 372.6,756.0 373.1,756.0 373.6,756.0 374.1,756.0 374.6,756.0 375.1,756.0 375.6,756.0 376.1,756.0 376.6,756.0 377.1,756.0 377.6,756.0 378.1,756.0 378.6,756.0 379.1,756.0 379.6,756.0 380.1,756.0 380.6,756.0 381.1,756.0 381.6,756.0 382.1,756.0 382.6,756.0 383.1,756.0 383.6,756.0 384.1,756.0 384.6,756.0 385.1,756.0 385.6,756.0 386.1,756.0 386.6,756.0 387.1,756.0 387.6,756.0 388.1,756.1 388.6,756.1 389.1,756.1 389.6,756.1 390.1,756.1 390.6,756.1 391.1,756.1 391.6,756.1 392.1,756.1 392.6,756.1 393.1,756.1 393.6,756.1 394.1,756.1 394.6,756.1 395.1,756.1 395.6,756.1 396.1,756.1 396.6,756.1 397.1,756.1 397.6,756.1 398.1,756.1 398.6,756.1 399.1,756.1 399.6,756.1 400.1,756.1 400.6,756.1 401.1,756.1 401.6,756.1 402.1,756.1 402.6,756.1 403.1,756.1 403.6,756.1 404.1,756.1 404.6,756.1 405.1,756.1 405.6,756.1 406.1,756.1 406.6,756.1 407.1,756.1 407.6,756.1 408.1,756.2 408.6,756.2 409.1,756.2 409.6,756.2 410.1,756.2 410.6,756.2 411.1,756.2 411.6,756.2 412.1,756.2 412.6,756.2 413.1,756.2 413.6,756.2 414.1,756.2 414.6,756.2 415.1,756.2 415.6,756.2 416.1,756.2 416.6,756.2 417.1,756.2 417.6,756.2 418.1,756.2 418.6,756.2 419.1,756.2 419.6,756.2 420.1,756.2 420.6,756.2 421.1,756.2 421.6,756.2 422.1,756.3 422.6,756.3 423.1,756.3 423.6,756.3 424.1,756.3 424.6,756.3 425.1,756.3 425.6,756.3 426.1,756.3 426.6,756.3 427.1,756.3 427.6,756.3 428.1,756.3 428.6,756.3 429.1,756.3 429.6,756.3 430.1,756.3 430.6,756.3 431.1,756.3 431.6,756.3 432.1,756.3 432.6,756.3 433.1,756.3 433.6,756.3 434.1,756.3 434.6,756.4 435.1,756.4 435.6,756.4 436.1,756.4 436.6,756.4 437.1,756.4 437.6,756.4 438.1,756.4 438.6,756.4 439.1,756.4 439.6,756.4 440.1,756.4 440.6,756.4 441.1,756.4 441.6,756.4 442.1,756.4 442.6,756.4 443.1,756.4 443.6,756.4 444.1,756.4 444.6,756.4 445.1,756.4 445.6,756.5 446.1,756.5 446.6,756.5 447.1,756.5 447.6,756.5 448.1,756.5 448.6,756.5 449.1,756.5 449.6,756.5 450.1,756.5 450.6,756.5 451.1,756.5 451.6,756.5 452.1,756.5 452.6,756.5 453.1,756.5 453.6,756.5 454.1,756.5 454.6,756.5 455.1,756.5 455.6,756.5 456.1,756.6 456.6,756.6 457.1,756.6 457.6,756.6 458.1,756.6 458.6,756.6 459.1,756.6 459.6,756.6 460.1,756.6 460.6,756.6 461.1,756.6 461.6,756.6 462.1,756.6 462.6,756.6 463.1,756.6 463.6,756.6 464.1,756.6 464.6,756.6 465.1,756.6 465.6,756.6 466.1,756.7 466.6,756.7 467.1,756.7 467.6,756.7 468.1,756.7 468.6,756.7 469.1,756.7 469.6,756.7 470.1,756.7 470.6,756.7 471.1,756.7 471.6,756.7 472.1,756.7 472.6,756.7 473.1,756.7 473.6,756.7 474.1,756.7 474.6,756.7 475.1,756.8 475.6,756.8 476.1,756.8 476.6,756.8 477.1,756.8 477.6,756.8 478.1,756.8 478.6,756.8 479.1,756.8 479.6,756.8 480.1,756.8 480.6,756.8 481.1,756.8 481.6,756.8 482.1,756.8 482.6,756.8 483.1,756.8 483.6,756.9 484.1,756.9 484.6,756.9 485.1,756.9 485.6,756.9 486.1,756.9 486.6,756.9 487.1,756.9 487.6,756.9" stroke="#FF3C3C" stroke-width="1.3"/>
<polyline points="207.6,736.7 208.1,737.0 208.6,737.4 209.1,737.9 209.6,738.4 210.1,738.9 210.6,739.4 211.1,739.9 211.6,740.4 212.1,740.8 212.6,741.2 213.1,741.6 213.6,741.9 214.1,742.3 214.6,742.6 215.1,742.9 215.6,743.2 216.1,743.5 216.6,743.8 217.1,744.1 217.6,744.3 218.1,744.6 218.6,744.8 219.1,745.0 219.6,745.2 220.1,745.4 220.6,745.6 221.1,745.7 221.6,745.9 222.1,746.0 222.6,746.1 223.1,746.3 223.6,746.4 224.1,746.5 224.6,746.6 225.1,746.7 225.6,746.8 226.1,746.9 226.6,747.0 227.1,747.1 227.6,747.2 228.1,747.3 228.6,747.4 229.1,747.5 229.6,747.5 230.1,747.6 230.6,747.7 231.1,747.8 231.6,747.8 232.1,747.9 232.6,748.0 233.1,748.0 233.6,748.1 234.1,748.2 234.6,748.2 235.1,748.3 235.6,748.3 236.1,748.4 236.6,748.4 237.1,748.5 237.6,748.5 238.1,748.5 238.6,748.6 239.1,748.6 239.6,748.6 240.1,748.6 240.6,748.6 241.1,748.6 241.6,748.6 242.1,748.6 242.6,748.6 243.1,748.6 243.6,748.6 244.1,748.6 244.6,748.6 245.1,748.6 245.6,748.6 246.1,748.5 246.6,748.5 247.1,748.4 247.6,748.4 248.1,748.3 248.6,748.3 249.1,748.2 249.6,748.1 250.1,748.1 250.6,748.0 251.1,747.9 251.6,747.8 252.1,747.7 252.6,747.7 253.1,747.6 253.6,747.5 254.1,747.3 254.6,747.2 255.1,747.1 255.6,747.0 256.1,746.8 256.6,746.7 257.1,746.5 257.6,746.4 258.1,746.2 258.6,746.1 259.1,745.9 259.6,745.7 260.1,745.5 260.6,745.4 261.1,745.2 261.6,745.0 262.1,744.8 262.6,744.6 263.1,744.4 263.6,744.1 264.1,743.9 264.6,743.7 265.1,743.4 265.6,743.2 266.1,742.9 266.6,742.7 267.1,742.4 267.6,742.1 268.1,741.8 268.6,741.6 269.1,741.3 269.6,740.9 270.1,740.6 270.6,740.3 271.1,740.0 271.6,739.6 272.1,739.3 272.6,738.9 273.1,738.6 273.6,738.2 274.1,737.8 274.6,737.4 275.1,737.0 275.6,736.6 276.1,736.2 276.6,735.8 277.1,735.4 277.6,735.0 278.1,734.6 278.6,734.1 279.1,733.7 279.6,733.3 280.1,732.9 280.6,732.5 281.1,732.0 281.6,731.6 282.1,731.2 282.6,730.8 283.1,730.4 283.6,730.0 284.1,729.6 284.6,729.2 285.1,728.9 285.6,728.5 286.1,728.2 286.6,727.8 287.1,727.5 287.6,727.2 288.1,726.9 288.6,726.6 289.1,726.3 289.6,726.0 290.1,725.8 290.6,725.6 291.1,725.3 291.6,725.1 292.1,724.9 292.6,724.8 293.1,724.6 293.6,724.5 294.1,724.4 294.6,724.3 295.1,724.2 295.6,724.1 296.1,724.1 296.6,724.0 297.1,724.0 297.6,724.0 298.1,724.0 298.6,724.0 299.1,724.0 299.6,724.1 300.1,724.2 300.6,724.3 301.1,724.4 301.6,724.6 302.1,724.7 302.6,724.9 303.1,725.2 303.6,725.4 304.1,725.7 304.6,726.0 305.1,726.3 305.6,726.6 306.1,726.9 306.6,727.3 307.1,727.7 307.6,728.0 308.1,728.4 308.6,728.8 309.1,729.2 309.6,729.6 310.1,730.1 310.6,730.5 311.1,730.9 311.6,731.4 312.1,731.8 312.6,732.3 313.1,732.7 313.6,733.2 314.1,733.6 314.6,734.1 315.1,734.5 315.6,735.0 316.1,735.5 316.6,735.9 317.1,736.4 317.6,736.9 318.1,737.4 318.6,737.8 319.1,738.3 319.6,738.7 320.1,739.2 320.6,739.6 321.1,740.1 321.6,740.5 322.1,740.9 322.6,741.3 323.1,741.8 323.6,742.2 324.1,742.6 324.6,743.0 325.1,743.4 325.6,743.8 326.1,744.1 326.6,744.5 327.1,744.9 327.6,745.3 328.1,745.6 328.6,746.0 329.1,746.3 329.6,746.6 330.1,747.0 330.6,747.3 331.1,747.6 331.6,747.9 332.1,748.2 332.6,748.5 333.1,748.8 333.6,749.0 334.1,749.3 334.6,749.6 335.1,749.8 335.6,750.0 336.1,750.3 336.6,750.5 337.1,750.7 337.6,750.9 338.1,751.1 338.6,751.3 339.1,751.4 339.6,751.6 340.1,751.8 340.6,751.9 341.1,752.1 341.6,752.2 342.1,752.4 342.6,752.5 343.1,752.7 343.6,752.9 344.1,753.1 344.6,753.2 345.1,753.4 345.6,753.6 346.1,753.7 346.6,753.9 347.1,754.0 347.6,754.1 348.1,754.3 348.6,754.4 349.1,754.5 349.6,754.6 350.1,754.7 350.6,754.8 351.1,754.9 351.6,755.0 352.1,755.1 352.6,755.2 353.1,755.2 353.6,755.3 354.1,755.4 354.6,755.5 355.1,755.5 355.6,755.6 356.1,755.6 356.6,755.6 357.1,755.7 357.6,755.7 358.1,755.7 358.6,755.8 359.1,755.8 359.6,755.8 360.1,755.8 360.6,755.9 361.1,755.9 361.6,755.9 362.1,755.9 362.6,755.9 363.1,755.9 363.6,755.9 364.1,755.9 364.6,755.9 365.1,755.9 365.6,756.0 366.1,756.0 366.6,756.0 367.1,756.0 367.6,756.0 368.1,756.0 368.6,756.0 369.1,756.0 369.6,756.0 370.1,756.0 370.6,756.0 371.1,756.0 371.6,756.0 372.1,756.0 372.6,756.0 373.1,756.0 373.6,756.0 374.1,756.0 374.6,756.0 375.1,756.1 375.6,756.1 376.1,756.1 376.6,756.1 377.1,756.1 377.6,756.1 378.1,756.1 378.6,756.1 379.1,756.1 379.6,756.1 380.1,756.1 380.6,756.1 381.1,756.1 381.6,756.1 382.1,756.1 382.6,756.1 383.1,756.1 383.6,756.1 384.1,756.1 384.6,756.1 385.1,756.1 385.6,756.1 386.1,756.1 386.6,756.1 387.1,756.1 387.6,756.1 388.1,756.1 388.6,756.1 389.1,756.1 389.6,756.1 390.1,756.1 390.6,756.1 391.1,756.1 391.6,756.1 392.1,756.1 392.6,756.2 393.1,756.2 393.6,756.2 394.1,756.2 394.6,756.2 395.1,756.2 395.6,756.2 396.1,756.2 396.6,756.2 397.1,756.2 397.6,756.2 398.1,756.2 398.6,756.2 399.1,756.2 399.6,756.2 400.1,756.2 400.6,756.2 401.1,756.2 401.6,756.2 402.1,756.2 402.6,756.2 403.1,756.2 403.6,756.2 404.1,756.2 404.6,756.2 405.1,756.2 405.6,756.2 406.1,756.2 406.6,756.2 407.1,756.3 407.6,756.3 408.1,756.3 408.6,756.3 409.1,756.3 409.6,756.3 410.1,756.3 410.6,756.3 411.1,756.3 411.6,756.3 412.1,756.3 412.6,756.3 413.1,756.3 413.6,756.3 414.1,756.3 414.6,756.3 415.1,756.3 415.6,756.3 416.1,756.3 416.6,756.3 417.1,756.3 417.6,756.3 418.1,756.3 418.6,756.3 419.1,756.3 419.6,756.3 420.1,756.3 420.6,756.3 421.1,756.4 421.6,756.4 422.1,756.4 422.6,756.4 423.1,756.4 423.6,756.4 424.1,756.4 424.6,756.4 425.1,756.4 425.6,756.4 426.1,756.4 426.6,756.4 427.1,756.4 427.6,756.4 428.1,756.4 428.6,756.4 429.1,756.4 429.6,756.4 430.1,756.4 430.6,756.4 431.1,756.4 431.6,756.4 432.1,756.4 432.6,756.4 433.1,756.4 433.6,756.4 434.1,756.5 434.6,756.5 435.1,756.5 435.6,756.5 436.1,756.5 436.6,756.5 437.1,756.5 437.6,756.5 438.1,756.5 438.6,756.5 439.1,756.5 439.6,756.5 440.1,756.5 440.6,756.5 441.1,756.5 441.6,756.5 442.1,756.5 442.6,756.5 443.1,756.5 443.6,756.5 444.1,756.5 444.6,756.5 445.1,756.5 445.6,756.6 446.1,756.6 446.6,756.6 447.1,756.6 447.6,756.6 448.1,756.6 448.6,756.6 449.1,756.6 449.6,756.6 450.1,756.6 450.6,756.6 451.1,756.6 451.6,756.6 452.1,756.6 452.6,756.6 453.1,756.6 453.6,756.6 454.1,756.6 454.6,756.6 455.1,756.6 455.6,756.6 456.1,756.7 456.6,756.7 457.1,756.7 457.6,756.7 458.1,756.7 458.6,756.7 459.1,756.7 459.6,756.7 460.1,756.7 460.6,756.7 461.1,756.7 461.6,756.7 462.1,756.7 462.6,756.7 463.1,756.7 463.6,756.7 464.1,756.7 464.6,756.7 465.1,756.7 465.6,756.7 466.1,756.8 466.6,756.8 467.1,756.8 467.6,756.8 468.1,756.8 468.6,756.8 469.1,756.8 469.6,756.8 470.1,756.8 470.6,756.8 471.1,756.8 471.6,756.8 472.1,756.8 472.6,756.8 473.1,756.8 473.6,756.8 474.1,756.8 474.6,756.8 475.1,756.9 475.6,756.9 476.1,756.9 476.6,756.9 477.1,756.9 477.6,756.9 478.1,756.9 478.6,756.9 479.1,756.9 479.6,756.9 480.1,756.9 480.6,756.9 481.1,756.9 481.6,756.9 482.1,756.9 482.6,756.9 483.1,756.9 483.6,757.0 484.1,757.0 484.6,757.0 485.1,757.0 485.6,757.0 486.1,757.0 486.6,757.0 487.1,757.0 487.6,757.0" stroke="#404040" stroke-width="1.3"/>
</g>
<path d="M277.52 758.3 v-6.5 M277.52 413.5 v6.5" stroke="#333" stroke-width="1" fill="none"/>
<path d="M347.55 758.3 v-6.5 M347.55 413.5 v6.5" stroke="#333" stroke-width="1" fill="none"/>
<path d="M417.57 758.3 v-6.5 M417.57 413.5 v6.5" stroke="#333" stroke-width="1" fill="none"/>
<path d="M207.5 689.34 h6.5 M487.6 689.34 h-6.5" stroke="#333" stroke-width="1" fill="none"/>
<path d="M207.5 620.38 h6.5 M487.6 620.38 h-6.5" stroke="#333" stroke-width="1" fill="none"/>
<path d="M207.5 551.42 h6.5 M487.6 551.42 h-6.5" stroke="#333" stroke-width="1" fill="none"/>
<path d="M207.5 482.46 h6.5 M487.6 482.46 h-6.5" stroke="#333" stroke-width="1" fill="none"/>
<text class="ss" x="206.40" y="775.90" font-size="11.8" text-anchor="middle" fill="#1a1a1a" textLength="36.20" lengthAdjust="spacingAndGlyphs">200.00</text>
<text class="ss" x="276.42" y="775.90" font-size="11.8" text-anchor="middle" fill="#1a1a1a" textLength="36.20" lengthAdjust="spacingAndGlyphs">250.00</text>
<text class="ss" x="346.45" y="775.90" font-size="11.8" text-anchor="middle" fill="#1a1a1a" textLength="36.20" lengthAdjust="spacingAndGlyphs">300.00</text>
<text class="ss" x="416.47" y="775.90" font-size="11.8" text-anchor="middle" fill="#1a1a1a" textLength="36.20" lengthAdjust="spacingAndGlyphs">350.00</text>
<text class="ss" x="486.50" y="775.90" font-size="11.8" text-anchor="middle" fill="#1a1a1a" textLength="36.20" lengthAdjust="spacingAndGlyphs">400.00</text>
<text class="ss" x="205.10" y="762.12" font-size="11.8" text-anchor="end" fill="#1a1a1a" textLength="22.40" lengthAdjust="spacingAndGlyphs">0.00</text>
<text class="ss" x="205.10" y="693.16" font-size="11.8" text-anchor="end" fill="#1a1a1a" textLength="22.40" lengthAdjust="spacingAndGlyphs">0.20</text>
<text class="ss" x="205.10" y="624.20" font-size="11.8" text-anchor="end" fill="#1a1a1a" textLength="22.40" lengthAdjust="spacingAndGlyphs">0.40</text>
<text class="ss" x="205.10" y="555.24" font-size="11.8" text-anchor="end" fill="#1a1a1a" textLength="22.40" lengthAdjust="spacingAndGlyphs">0.60</text>
<text class="ss" x="205.10" y="486.28" font-size="11.8" text-anchor="end" fill="#1a1a1a" textLength="22.40" lengthAdjust="spacingAndGlyphs">0.80</text>
<text class="ss" x="205.10" y="417.32" font-size="11.8" text-anchor="end" fill="#1a1a1a" textLength="22.40" lengthAdjust="spacingAndGlyphs">1.00</text>
<text class="ss" x="347.60" y="787.00" font-size="11.5" text-anchor="middle" fill="#1a1a1a">nm</text>
<text class="ss" x="163.70" y="581.00" font-size="11.5" text-anchor="middle" fill="#1a1a1a" textLength="23.40" lengthAdjust="spacingAndGlyphs" transform="rotate(-90 163.70 581.00)">Abs.</text>
<text class="sf" x="293.90" y="810.10" font-size="18" text-anchor="start" fill="#1a1a1a" textLength="101.00" lengthAdjust="spacingAndGlyphs">(c) Vitamin-C</text>
</svg></body></html>
